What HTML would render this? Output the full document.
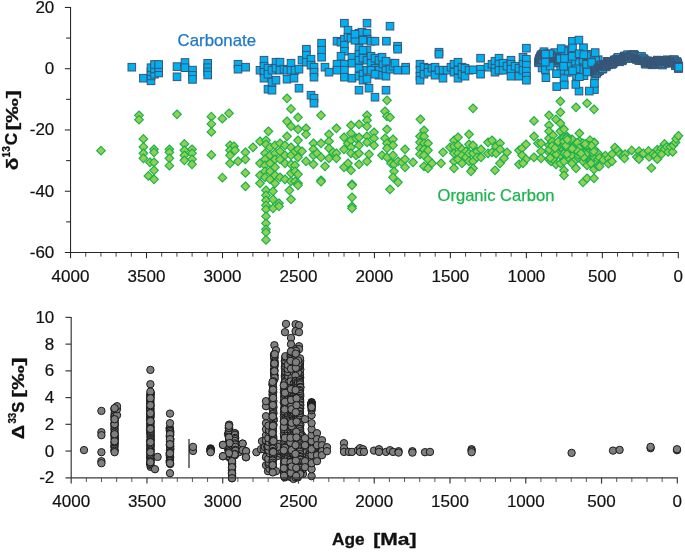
<!DOCTYPE html>
<html lang="en"><head><meta charset="utf-8"><title>Carbon and sulfur isotope records</title>
<style>html,body{margin:0;padding:0;background:#fff}svg{display:block}</style></head>
<body>
<svg width="685" height="552" viewBox="0 0 685 552">
<rect width="685" height="552" fill="#fff"/>
<g fill="#00B0F0" stroke="#3A5474" stroke-width="1">
<rect x="128.00" y="63.40" width="7.6" height="7.6"/>
<rect x="234.20" y="60.40" width="7.6" height="7.6"/>
<rect x="234.20" y="65.40" width="7.6" height="7.6"/>
<rect x="241.80" y="63.40" width="7.6" height="7.6"/>
<rect x="139.60" y="74.40" width="7.6" height="7.6"/>
<rect x="147.20" y="77.00" width="7.6" height="7.6"/>
<rect x="147.20" y="72.10" width="7.6" height="7.6"/>
<rect x="147.20" y="68.00" width="7.6" height="7.6"/>
<rect x="147.20" y="63.90" width="7.6" height="7.6"/>
<rect x="150.70" y="70.40" width="7.6" height="7.6"/>
<rect x="150.70" y="65.10" width="7.6" height="7.6"/>
<rect x="150.70" y="60.70" width="7.6" height="7.6"/>
<rect x="154.90" y="69.20" width="7.6" height="7.6"/>
<rect x="154.90" y="63.90" width="7.6" height="7.6"/>
<rect x="154.90" y="60.70" width="7.6" height="7.6"/>
<rect x="173.20" y="62.80" width="7.6" height="7.6"/>
<rect x="173.20" y="73.00" width="7.6" height="7.6"/>
<rect x="181.20" y="58.70" width="7.6" height="7.6"/>
<rect x="181.20" y="63.90" width="7.6" height="7.6"/>
<rect x="188.70" y="66.30" width="7.6" height="7.6"/>
<rect x="188.70" y="71.50" width="7.6" height="7.6"/>
<rect x="188.70" y="75.60" width="7.6" height="7.6"/>
<rect x="203.90" y="59.50" width="7.6" height="7.6"/>
<rect x="203.90" y="63.90" width="7.6" height="7.6"/>
<rect x="203.90" y="68.00" width="7.6" height="7.6"/>
<rect x="203.90" y="71.20" width="7.6" height="7.6"/>
<rect x="256.20" y="66.40" width="7.6" height="7.6"/>
<rect x="260.20" y="56.40" width="7.6" height="7.6"/>
<rect x="260.20" y="62.40" width="7.6" height="7.6"/>
<rect x="260.20" y="68.40" width="7.6" height="7.6"/>
<rect x="260.20" y="74.40" width="7.6" height="7.6"/>
<rect x="264.20" y="64.40" width="7.6" height="7.6"/>
<rect x="264.20" y="70.40" width="7.6" height="7.6"/>
<rect x="264.20" y="85.40" width="7.6" height="7.6"/>
<rect x="268.20" y="78.40" width="7.6" height="7.6"/>
<rect x="268.20" y="86.40" width="7.6" height="7.6"/>
<rect x="268.20" y="66.40" width="7.6" height="7.6"/>
<rect x="272.20" y="58.40" width="7.6" height="7.6"/>
<rect x="272.20" y="64.40" width="7.6" height="7.6"/>
<rect x="272.20" y="76.40" width="7.6" height="7.6"/>
<rect x="276.20" y="58.40" width="7.6" height="7.6"/>
<rect x="276.20" y="66.40" width="7.6" height="7.6"/>
<rect x="280.20" y="65.40" width="7.6" height="7.6"/>
<rect x="283.20" y="75.40" width="7.6" height="7.6"/>
<rect x="283.20" y="66.40" width="7.6" height="7.6"/>
<rect x="287.20" y="59.40" width="7.6" height="7.6"/>
<rect x="287.20" y="66.40" width="7.6" height="7.6"/>
<rect x="290.20" y="74.40" width="7.6" height="7.6"/>
<rect x="291.20" y="66.40" width="7.6" height="7.6"/>
<rect x="295.20" y="65.40" width="7.6" height="7.6"/>
<rect x="295.20" y="84.40" width="7.6" height="7.6"/>
<rect x="298.20" y="56.40" width="7.6" height="7.6"/>
<rect x="302.60" y="45.40" width="7.6" height="7.6"/>
<rect x="302.60" y="51.40" width="7.6" height="7.6"/>
<rect x="302.60" y="58.40" width="7.6" height="7.6"/>
<rect x="307.20" y="55.40" width="7.6" height="7.6"/>
<rect x="307.20" y="61.40" width="7.6" height="7.6"/>
<rect x="310.20" y="63.40" width="7.6" height="7.6"/>
<rect x="310.20" y="68.40" width="7.6" height="7.6"/>
<rect x="310.20" y="73.40" width="7.6" height="7.6"/>
<rect x="307.20" y="91.40" width="7.6" height="7.6"/>
<rect x="310.20" y="94.40" width="7.6" height="7.6"/>
<rect x="310.20" y="99.40" width="7.6" height="7.6"/>
<rect x="317.80" y="39.40" width="7.6" height="7.6"/>
<rect x="317.80" y="46.40" width="7.6" height="7.6"/>
<rect x="317.80" y="53.40" width="7.6" height="7.6"/>
<rect x="321.20" y="63.40" width="7.6" height="7.6"/>
<rect x="325.20" y="68.40" width="7.6" height="7.6"/>
<rect x="340.60" y="19.40" width="7.6" height="7.6"/>
<rect x="344.20" y="26.40" width="7.6" height="7.6"/>
<rect x="333.20" y="37.40" width="7.6" height="7.6"/>
<rect x="337.20" y="38.40" width="7.6" height="7.6"/>
<rect x="340.60" y="35.40" width="7.6" height="7.6"/>
<rect x="340.60" y="41.40" width="7.6" height="7.6"/>
<rect x="340.60" y="47.40" width="7.6" height="7.6"/>
<rect x="344.20" y="33.40" width="7.6" height="7.6"/>
<rect x="347.20" y="34.40" width="7.6" height="7.6"/>
<rect x="351.20" y="36.40" width="7.6" height="7.6"/>
<rect x="355.20" y="29.40" width="7.6" height="7.6"/>
<rect x="358.20" y="28.40" width="7.6" height="7.6"/>
<rect x="363.20" y="19.40" width="7.6" height="7.6"/>
<rect x="363.20" y="29.40" width="7.6" height="7.6"/>
<rect x="363.20" y="35.40" width="7.6" height="7.6"/>
<rect x="367.20" y="37.40" width="7.6" height="7.6"/>
<rect x="371.20" y="37.40" width="7.6" height="7.6"/>
<rect x="382.60" y="37.40" width="7.6" height="7.6"/>
<rect x="386.20" y="22.40" width="7.6" height="7.6"/>
<rect x="333.20" y="60.40" width="7.6" height="7.6"/>
<rect x="333.20" y="66.40" width="7.6" height="7.6"/>
<rect x="340.60" y="60.40" width="7.6" height="7.6"/>
<rect x="340.60" y="66.40" width="7.6" height="7.6"/>
<rect x="340.60" y="73.40" width="7.6" height="7.6"/>
<rect x="348.20" y="53.40" width="7.6" height="7.6"/>
<rect x="348.20" y="59.40" width="7.6" height="7.6"/>
<rect x="348.20" y="74.40" width="7.6" height="7.6"/>
<rect x="355.20" y="44.40" width="7.6" height="7.6"/>
<rect x="355.20" y="50.40" width="7.6" height="7.6"/>
<rect x="355.20" y="56.40" width="7.6" height="7.6"/>
<rect x="355.20" y="64.40" width="7.6" height="7.6"/>
<rect x="355.20" y="72.40" width="7.6" height="7.6"/>
<rect x="355.20" y="86.40" width="7.6" height="7.6"/>
<rect x="359.20" y="54.40" width="7.6" height="7.6"/>
<rect x="359.20" y="70.40" width="7.6" height="7.6"/>
<rect x="359.20" y="76.40" width="7.6" height="7.6"/>
<rect x="363.20" y="46.40" width="7.6" height="7.6"/>
<rect x="363.20" y="56.40" width="7.6" height="7.6"/>
<rect x="363.20" y="66.40" width="7.6" height="7.6"/>
<rect x="363.20" y="75.40" width="7.6" height="7.6"/>
<rect x="365.20" y="84.40" width="7.6" height="7.6"/>
<rect x="367.20" y="52.40" width="7.6" height="7.6"/>
<rect x="367.20" y="59.40" width="7.6" height="7.6"/>
<rect x="371.20" y="54.40" width="7.6" height="7.6"/>
<rect x="371.20" y="64.40" width="7.6" height="7.6"/>
<rect x="371.20" y="93.40" width="7.6" height="7.6"/>
<rect x="375.20" y="56.40" width="7.6" height="7.6"/>
<rect x="375.20" y="66.40" width="7.6" height="7.6"/>
<rect x="375.20" y="71.40" width="7.6" height="7.6"/>
<rect x="379.20" y="60.40" width="7.6" height="7.6"/>
<rect x="382.20" y="66.40" width="7.6" height="7.6"/>
<rect x="382.20" y="72.40" width="7.6" height="7.6"/>
<rect x="382.20" y="86.40" width="7.6" height="7.6"/>
<rect x="386.20" y="59.40" width="7.6" height="7.6"/>
<rect x="386.20" y="65.40" width="7.6" height="7.6"/>
<rect x="389.20" y="62.40" width="7.6" height="7.6"/>
<rect x="337.20" y="52.40" width="7.6" height="7.6"/>
<rect x="351.20" y="30.40" width="7.6" height="7.6"/>
<rect x="359.20" y="36.40" width="7.6" height="7.6"/>
<rect x="359.20" y="46.40" width="7.6" height="7.6"/>
<rect x="367.20" y="66.40" width="7.6" height="7.6"/>
<rect x="371.20" y="70.40" width="7.6" height="7.6"/>
<rect x="378.20" y="53.40" width="7.6" height="7.6"/>
<rect x="382.20" y="57.40" width="7.6" height="7.6"/>
<rect x="393.80" y="42.40" width="7.6" height="7.6"/>
<rect x="393.80" y="45.40" width="7.6" height="7.6"/>
<rect x="391.20" y="59.40" width="7.6" height="7.6"/>
<rect x="393.80" y="66.40" width="7.6" height="7.6"/>
<rect x="401.80" y="63.40" width="7.6" height="7.6"/>
<rect x="401.80" y="66.40" width="7.6" height="7.6"/>
<rect x="416.20" y="60.40" width="7.6" height="7.6"/>
<rect x="416.20" y="66.40" width="7.6" height="7.6"/>
<rect x="416.20" y="72.40" width="7.6" height="7.6"/>
<rect x="416.20" y="76.40" width="7.6" height="7.6"/>
<rect x="420.20" y="63.40" width="7.6" height="7.6"/>
<rect x="420.20" y="70.40" width="7.6" height="7.6"/>
<rect x="424.20" y="64.40" width="7.6" height="7.6"/>
<rect x="424.20" y="68.40" width="7.6" height="7.6"/>
<rect x="428.20" y="64.40" width="7.6" height="7.6"/>
<rect x="431.20" y="63.40" width="7.6" height="7.6"/>
<rect x="431.20" y="71.40" width="7.6" height="7.6"/>
<rect x="435.20" y="48.40" width="7.6" height="7.6"/>
<rect x="435.20" y="50.40" width="7.6" height="7.6"/>
<rect x="435.20" y="66.40" width="7.6" height="7.6"/>
<rect x="439.20" y="66.40" width="7.6" height="7.6"/>
<rect x="439.20" y="74.40" width="7.6" height="7.6"/>
<rect x="443.20" y="66.40" width="7.6" height="7.6"/>
<rect x="447.20" y="63.40" width="7.6" height="7.6"/>
<rect x="450.20" y="60.40" width="7.6" height="7.6"/>
<rect x="450.20" y="68.40" width="7.6" height="7.6"/>
<rect x="454.20" y="58.40" width="7.6" height="7.6"/>
<rect x="454.20" y="66.40" width="7.6" height="7.6"/>
<rect x="454.20" y="74.40" width="7.6" height="7.6"/>
<rect x="458.20" y="63.40" width="7.6" height="7.6"/>
<rect x="458.20" y="70.40" width="7.6" height="7.6"/>
<rect x="461.20" y="64.40" width="7.6" height="7.6"/>
<rect x="461.20" y="72.40" width="7.6" height="7.6"/>
<rect x="465.20" y="66.40" width="7.6" height="7.6"/>
<rect x="469.20" y="66.00" width="7.6" height="7.6"/>
<rect x="476.80" y="54.40" width="7.6" height="7.6"/>
<rect x="476.80" y="65.40" width="7.6" height="7.6"/>
<rect x="476.80" y="70.40" width="7.6" height="7.6"/>
<rect x="484.20" y="63.40" width="7.6" height="7.6"/>
<rect x="488.20" y="60.40" width="7.6" height="7.6"/>
<rect x="491.20" y="57.40" width="7.6" height="7.6"/>
<rect x="491.20" y="64.40" width="7.6" height="7.6"/>
<rect x="491.20" y="68.40" width="7.6" height="7.6"/>
<rect x="495.20" y="54.40" width="7.6" height="7.6"/>
<rect x="495.20" y="60.40" width="7.6" height="7.6"/>
<rect x="495.20" y="66.40" width="7.6" height="7.6"/>
<rect x="499.20" y="59.40" width="7.6" height="7.6"/>
<rect x="499.20" y="66.40" width="7.6" height="7.6"/>
<rect x="503.20" y="62.40" width="7.6" height="7.6"/>
<rect x="507.20" y="56.40" width="7.6" height="7.6"/>
<rect x="507.20" y="60.40" width="7.6" height="7.6"/>
<rect x="507.20" y="65.40" width="7.6" height="7.6"/>
<rect x="507.20" y="72.40" width="7.6" height="7.6"/>
<rect x="511.20" y="62.40" width="7.6" height="7.6"/>
<rect x="515.20" y="64.40" width="7.6" height="7.6"/>
<rect x="515.20" y="72.40" width="7.6" height="7.6"/>
<rect x="519.20" y="53.40" width="7.6" height="7.6"/>
<rect x="519.20" y="60.40" width="7.6" height="7.6"/>
<rect x="519.20" y="66.40" width="7.6" height="7.6"/>
<rect x="522.60" y="44.40" width="7.6" height="7.6"/>
<rect x="522.60" y="55.40" width="7.6" height="7.6"/>
<rect x="522.60" y="61.40" width="7.6" height="7.6"/>
<rect x="522.60" y="67.40" width="7.6" height="7.6"/>
<rect x="522.60" y="72.40" width="7.6" height="7.6"/>
<rect x="522.60" y="76.40" width="7.6" height="7.6"/>
<rect x="594.10" y="67.90" width="7.6" height="7.6"/>
<rect x="571.60" y="56.70" width="7.6" height="7.6"/>
<rect x="557.50" y="58.30" width="7.6" height="7.6"/>
<rect x="563.60" y="68.60" width="7.6" height="7.6"/>
<rect x="568.30" y="58.30" width="7.6" height="7.6"/>
<rect x="563.70" y="62.40" width="7.6" height="7.6"/>
<rect x="590.60" y="85.80" width="7.6" height="7.6"/>
<rect x="587.20" y="66.60" width="7.6" height="7.6"/>
<rect x="553.80" y="52.50" width="7.6" height="7.6"/>
<rect x="575.20" y="58.80" width="7.6" height="7.6"/>
<rect x="579.30" y="56.30" width="7.6" height="7.6"/>
<rect x="572.20" y="50.60" width="7.6" height="7.6"/>
<rect x="564.90" y="45.90" width="7.6" height="7.6"/>
<rect x="594.40" y="55.90" width="7.6" height="7.6"/>
<rect x="554.40" y="59.20" width="7.6" height="7.6"/>
<rect x="572.70" y="72.10" width="7.6" height="7.6"/>
<rect x="580.20" y="71.90" width="7.6" height="7.6"/>
<rect x="575.20" y="87.30" width="7.6" height="7.6"/>
<rect x="575.60" y="72.90" width="7.6" height="7.6"/>
<rect x="550.70" y="56.10" width="7.6" height="7.6"/>
<rect x="564.10" y="54.80" width="7.6" height="7.6"/>
<rect x="546.40" y="57.00" width="7.6" height="7.6"/>
<rect x="585.50" y="87.30" width="7.6" height="7.6"/>
<rect x="538.30" y="64.20" width="7.6" height="7.6"/>
<rect x="560.10" y="47.10" width="7.6" height="7.6"/>
<rect x="579.40" y="64.90" width="7.6" height="7.6"/>
<rect x="591.70" y="64.80" width="7.6" height="7.6"/>
<rect x="591.80" y="56.80" width="7.6" height="7.6"/>
<rect x="538.00" y="50.90" width="7.6" height="7.6"/>
<rect x="556.60" y="52.00" width="7.6" height="7.6"/>
<rect x="587.00" y="50.50" width="7.6" height="7.6"/>
<rect x="575.30" y="66.00" width="7.6" height="7.6"/>
<rect x="583.30" y="68.10" width="7.6" height="7.6"/>
<rect x="572.40" y="65.10" width="7.6" height="7.6"/>
<rect x="591.00" y="72.30" width="7.6" height="7.6"/>
<rect x="538.40" y="55.80" width="7.6" height="7.6"/>
<rect x="568.70" y="67.00" width="7.6" height="7.6"/>
<rect x="550.90" y="48.80" width="7.6" height="7.6"/>
<rect x="579.70" y="43.90" width="7.6" height="7.6"/>
<rect x="590.60" y="79.60" width="7.6" height="7.6"/>
<rect x="534.70" y="58.10" width="7.6" height="7.6"/>
<rect x="534.90" y="59.00" width="7.6" height="7.6"/>
<rect x="535.20" y="56.40" width="7.6" height="7.6"/>
<rect x="535.50" y="54.90" width="7.6" height="7.6"/>
<rect x="535.50" y="57.30" width="7.6" height="7.6"/>
<rect x="535.80" y="56.60" width="7.6" height="7.6"/>
<rect x="536.10" y="57.30" width="7.6" height="7.6"/>
<rect x="536.10" y="54.70" width="7.6" height="7.6"/>
<rect x="536.60" y="53.30" width="7.6" height="7.6"/>
<rect x="536.80" y="55.90" width="7.6" height="7.6"/>
<rect x="536.90" y="52.00" width="7.6" height="7.6"/>
<rect x="537.10" y="54.90" width="7.6" height="7.6"/>
<rect x="537.70" y="51.20" width="7.6" height="7.6"/>
<rect x="537.70" y="53.80" width="7.6" height="7.6"/>
<rect x="538.30" y="52.40" width="7.6" height="7.6"/>
<rect x="538.60" y="50.90" width="7.6" height="7.6"/>
<rect x="538.70" y="54.90" width="7.6" height="7.6"/>
<rect x="539.10" y="56.00" width="7.6" height="7.6"/>
<rect x="539.60" y="49.70" width="7.6" height="7.6"/>
<rect x="539.90" y="52.10" width="7.6" height="7.6"/>
<rect x="540.20" y="47.90" width="7.6" height="7.6"/>
<rect x="540.50" y="52.00" width="7.6" height="7.6"/>
<rect x="541.00" y="54.10" width="7.6" height="7.6"/>
<rect x="541.50" y="51.80" width="7.6" height="7.6"/>
<rect x="541.70" y="51.40" width="7.6" height="7.6"/>
<rect x="542.30" y="50.60" width="7.6" height="7.6"/>
<rect x="542.50" y="51.70" width="7.6" height="7.6"/>
<rect x="542.90" y="51.10" width="7.6" height="7.6"/>
<rect x="543.40" y="51.50" width="7.6" height="7.6"/>
<rect x="543.80" y="50.10" width="7.6" height="7.6"/>
<rect x="544.30" y="53.70" width="7.6" height="7.6"/>
<rect x="544.70" y="52.50" width="7.6" height="7.6"/>
<rect x="545.00" y="52.60" width="7.6" height="7.6"/>
<rect x="545.40" y="50.40" width="7.6" height="7.6"/>
<rect x="545.80" y="52.90" width="7.6" height="7.6"/>
<rect x="546.00" y="53.20" width="7.6" height="7.6"/>
<rect x="546.50" y="53.10" width="7.6" height="7.6"/>
<rect x="546.80" y="51.00" width="7.6" height="7.6"/>
<rect x="547.00" y="54.50" width="7.6" height="7.6"/>
<rect x="547.40" y="55.10" width="7.6" height="7.6"/>
<rect x="547.70" y="52.90" width="7.6" height="7.6"/>
<rect x="548.20" y="52.20" width="7.6" height="7.6"/>
<rect x="548.60" y="54.50" width="7.6" height="7.6"/>
<rect x="548.80" y="53.90" width="7.6" height="7.6"/>
<rect x="549.20" y="55.80" width="7.6" height="7.6"/>
<rect x="549.50" y="55.60" width="7.6" height="7.6"/>
<rect x="550.10" y="56.00" width="7.6" height="7.6"/>
<rect x="550.50" y="55.50" width="7.6" height="7.6"/>
<rect x="550.80" y="55.60" width="7.6" height="7.6"/>
<rect x="551.10" y="56.50" width="7.6" height="7.6"/>
<rect x="551.60" y="54.40" width="7.6" height="7.6"/>
<rect x="551.80" y="55.70" width="7.6" height="7.6"/>
<rect x="552.30" y="59.00" width="7.6" height="7.6"/>
<rect x="552.70" y="54.30" width="7.6" height="7.6"/>
<rect x="552.90" y="54.20" width="7.6" height="7.6"/>
<rect x="553.40" y="56.10" width="7.6" height="7.6"/>
<rect x="553.80" y="54.80" width="7.6" height="7.6"/>
<rect x="554.20" y="54.00" width="7.6" height="7.6"/>
<rect x="554.60" y="57.20" width="7.6" height="7.6"/>
<rect x="555.20" y="57.10" width="7.6" height="7.6"/>
<rect x="555.50" y="54.40" width="7.6" height="7.6"/>
<rect x="555.80" y="55.90" width="7.6" height="7.6"/>
<rect x="556.30" y="55.00" width="7.6" height="7.6"/>
<rect x="560.60" y="54.70" width="7.6" height="7.6"/>
<rect x="542.10" y="73.90" width="7.6" height="7.6"/>
<rect x="591.40" y="48.80" width="7.6" height="7.6"/>
<rect x="541.60" y="65.80" width="7.6" height="7.6"/>
<rect x="556.90" y="66.50" width="7.6" height="7.6"/>
<rect x="594.60" y="61.80" width="7.6" height="7.6"/>
<rect x="582.80" y="60.40" width="7.6" height="7.6"/>
<rect x="568.60" y="37.50" width="7.6" height="7.6"/>
<rect x="568.50" y="52.50" width="7.6" height="7.6"/>
<rect x="582.70" y="52.00" width="7.6" height="7.6"/>
<rect x="545.70" y="50.00" width="7.6" height="7.6"/>
<rect x="568.70" y="44.10" width="7.6" height="7.6"/>
<rect x="560.20" y="74.90" width="7.6" height="7.6"/>
<rect x="572.00" y="80.60" width="7.6" height="7.6"/>
<rect x="559.80" y="62.50" width="7.6" height="7.6"/>
<rect x="557.30" y="44.80" width="7.6" height="7.6"/>
<rect x="575.30" y="49.90" width="7.6" height="7.6"/>
<rect x="546.30" y="62.30" width="7.6" height="7.6"/>
<rect x="560.50" y="81.10" width="7.6" height="7.6"/>
<rect x="575.10" y="36.30" width="7.6" height="7.6"/>
<rect x="552.90" y="82.80" width="7.6" height="7.6"/>
<rect x="587.80" y="58.70" width="7.6" height="7.6"/>
<rect x="541.60" y="58.30" width="7.6" height="7.6"/>
<rect x="541.60" y="50.40" width="7.6" height="7.6"/>
<rect x="580.00" y="50.90" width="7.6" height="7.6"/>
<rect x="552.70" y="69.90" width="7.6" height="7.6"/>
<rect x="590.52" y="66.88" width="7.6" height="7.6"/>
<rect x="590.56" y="66.85" width="7.6" height="7.6"/>
<rect x="590.99" y="66.84" width="7.6" height="7.6"/>
<rect x="591.34" y="67.07" width="7.6" height="7.6"/>
<rect x="591.42" y="68.60" width="7.6" height="7.6"/>
<rect x="591.60" y="68.24" width="7.6" height="7.6"/>
<rect x="591.98" y="69.46" width="7.6" height="7.6"/>
<rect x="592.32" y="68.41" width="7.6" height="7.6"/>
<rect x="592.46" y="69.35" width="7.6" height="7.6"/>
<rect x="592.93" y="69.45" width="7.6" height="7.6"/>
<rect x="592.97" y="68.56" width="7.6" height="7.6"/>
<rect x="593.43" y="67.25" width="7.6" height="7.6"/>
<rect x="593.71" y="66.36" width="7.6" height="7.6"/>
<rect x="593.75" y="65.63" width="7.6" height="7.6"/>
<rect x="594.22" y="64.04" width="7.6" height="7.6"/>
<rect x="594.43" y="66.00" width="7.6" height="7.6"/>
<rect x="594.66" y="65.26" width="7.6" height="7.6"/>
<rect x="594.92" y="65.10" width="7.6" height="7.6"/>
<rect x="595.11" y="65.89" width="7.6" height="7.6"/>
<rect x="595.53" y="66.44" width="7.6" height="7.6"/>
<rect x="595.64" y="66.92" width="7.6" height="7.6"/>
<rect x="595.83" y="65.50" width="7.6" height="7.6"/>
<rect x="596.27" y="64.63" width="7.6" height="7.6"/>
<rect x="596.42" y="63.57" width="7.6" height="7.6"/>
<rect x="596.62" y="63.28" width="7.6" height="7.6"/>
<rect x="597.18" y="61.11" width="7.6" height="7.6"/>
<rect x="597.34" y="63.06" width="7.6" height="7.6"/>
<rect x="597.43" y="62.01" width="7.6" height="7.6"/>
<rect x="597.97" y="61.20" width="7.6" height="7.6"/>
<rect x="598.02" y="64.00" width="7.6" height="7.6"/>
<rect x="598.40" y="65.31" width="7.6" height="7.6"/>
<rect x="598.64" y="64.42" width="7.6" height="7.6"/>
<rect x="598.94" y="65.08" width="7.6" height="7.6"/>
<rect x="599.09" y="64.96" width="7.6" height="7.6"/>
<rect x="599.28" y="61.69" width="7.6" height="7.6"/>
<rect x="599.54" y="61.34" width="7.6" height="7.6"/>
<rect x="599.96" y="62.62" width="7.6" height="7.6"/>
<rect x="600.14" y="61.22" width="7.6" height="7.6"/>
<rect x="600.53" y="62.23" width="7.6" height="7.6"/>
<rect x="600.80" y="60.43" width="7.6" height="7.6"/>
<rect x="601.16" y="61.58" width="7.6" height="7.6"/>
<rect x="601.22" y="62.40" width="7.6" height="7.6"/>
<rect x="601.46" y="63.10" width="7.6" height="7.6"/>
<rect x="601.93" y="62.75" width="7.6" height="7.6"/>
<rect x="602.22" y="62.39" width="7.6" height="7.6"/>
<rect x="602.49" y="62.51" width="7.6" height="7.6"/>
<rect x="602.65" y="61.76" width="7.6" height="7.6"/>
<rect x="602.99" y="60.85" width="7.6" height="7.6"/>
<rect x="603.19" y="60.30" width="7.6" height="7.6"/>
<rect x="603.37" y="57.54" width="7.6" height="7.6"/>
<rect x="603.70" y="58.72" width="7.6" height="7.6"/>
<rect x="603.99" y="58.90" width="7.6" height="7.6"/>
<rect x="604.13" y="58.56" width="7.6" height="7.6"/>
<rect x="604.33" y="58.31" width="7.6" height="7.6"/>
<rect x="604.91" y="59.62" width="7.6" height="7.6"/>
<rect x="604.99" y="60.99" width="7.6" height="7.6"/>
<rect x="605.24" y="60.15" width="7.6" height="7.6"/>
<rect x="605.50" y="59.70" width="7.6" height="7.6"/>
<rect x="605.81" y="59.84" width="7.6" height="7.6"/>
<rect x="606.21" y="59.15" width="7.6" height="7.6"/>
<rect x="606.32" y="59.81" width="7.6" height="7.6"/>
<rect x="606.82" y="58.72" width="7.6" height="7.6"/>
<rect x="606.97" y="58.62" width="7.6" height="7.6"/>
<rect x="607.22" y="57.73" width="7.6" height="7.6"/>
<rect x="607.70" y="58.04" width="7.6" height="7.6"/>
<rect x="607.95" y="59.61" width="7.6" height="7.6"/>
<rect x="608.21" y="60.58" width="7.6" height="7.6"/>
<rect x="608.43" y="59.93" width="7.6" height="7.6"/>
<rect x="608.68" y="58.94" width="7.6" height="7.6"/>
<rect x="608.90" y="59.66" width="7.6" height="7.6"/>
<rect x="609.34" y="59.25" width="7.6" height="7.6"/>
<rect x="609.58" y="58.10" width="7.6" height="7.6"/>
<rect x="609.86" y="58.00" width="7.6" height="7.6"/>
<rect x="610.08" y="58.33" width="7.6" height="7.6"/>
<rect x="610.38" y="56.20" width="7.6" height="7.6"/>
<rect x="610.73" y="57.65" width="7.6" height="7.6"/>
<rect x="611.01" y="56.74" width="7.6" height="7.6"/>
<rect x="611.26" y="57.84" width="7.6" height="7.6"/>
<rect x="611.36" y="56.94" width="7.6" height="7.6"/>
<rect x="611.64" y="56.29" width="7.6" height="7.6"/>
<rect x="612.03" y="56.09" width="7.6" height="7.6"/>
<rect x="612.34" y="57.28" width="7.6" height="7.6"/>
<rect x="612.65" y="56.65" width="7.6" height="7.6"/>
<rect x="612.85" y="55.85" width="7.6" height="7.6"/>
<rect x="613.08" y="56.03" width="7.6" height="7.6"/>
<rect x="613.63" y="55.04" width="7.6" height="7.6"/>
<rect x="613.80" y="54.46" width="7.6" height="7.6"/>
<rect x="614.15" y="53.60" width="7.6" height="7.6"/>
<rect x="614.47" y="55.56" width="7.6" height="7.6"/>
<rect x="614.57" y="56.03" width="7.6" height="7.6"/>
<rect x="614.98" y="56.14" width="7.6" height="7.6"/>
<rect x="615.21" y="57.26" width="7.6" height="7.6"/>
<rect x="615.64" y="57.01" width="7.6" height="7.6"/>
<rect x="615.74" y="58.01" width="7.6" height="7.6"/>
<rect x="616.00" y="56.90" width="7.6" height="7.6"/>
<rect x="616.40" y="55.55" width="7.6" height="7.6"/>
<rect x="616.72" y="56.40" width="7.6" height="7.6"/>
<rect x="616.99" y="55.71" width="7.6" height="7.6"/>
<rect x="617.23" y="55.71" width="7.6" height="7.6"/>
<rect x="617.67" y="55.70" width="7.6" height="7.6"/>
<rect x="617.81" y="55.97" width="7.6" height="7.6"/>
<rect x="618.16" y="55.90" width="7.6" height="7.6"/>
<rect x="618.47" y="57.06" width="7.6" height="7.6"/>
<rect x="618.82" y="55.67" width="7.6" height="7.6"/>
<rect x="618.84" y="55.68" width="7.6" height="7.6"/>
<rect x="619.24" y="55.12" width="7.6" height="7.6"/>
<rect x="619.54" y="54.61" width="7.6" height="7.6"/>
<rect x="619.97" y="54.18" width="7.6" height="7.6"/>
<rect x="620.24" y="52.79" width="7.6" height="7.6"/>
<rect x="620.53" y="52.71" width="7.6" height="7.6"/>
<rect x="620.76" y="52.56" width="7.6" height="7.6"/>
<rect x="620.90" y="52.10" width="7.6" height="7.6"/>
<rect x="621.30" y="53.91" width="7.6" height="7.6"/>
<rect x="621.48" y="54.15" width="7.6" height="7.6"/>
<rect x="621.84" y="54.39" width="7.6" height="7.6"/>
<rect x="622.24" y="53.69" width="7.6" height="7.6"/>
<rect x="622.55" y="54.03" width="7.6" height="7.6"/>
<rect x="622.75" y="52.39" width="7.6" height="7.6"/>
<rect x="622.96" y="53.42" width="7.6" height="7.6"/>
<rect x="623.24" y="52.79" width="7.6" height="7.6"/>
<rect x="623.51" y="52.54" width="7.6" height="7.6"/>
<rect x="623.80" y="50.84" width="7.6" height="7.6"/>
<rect x="624.05" y="53.52" width="7.6" height="7.6"/>
<rect x="624.28" y="53.04" width="7.6" height="7.6"/>
<rect x="624.58" y="53.10" width="7.6" height="7.6"/>
<rect x="624.97" y="54.25" width="7.6" height="7.6"/>
<rect x="625.44" y="54.13" width="7.6" height="7.6"/>
<rect x="625.70" y="54.53" width="7.6" height="7.6"/>
<rect x="625.80" y="53.23" width="7.6" height="7.6"/>
<rect x="626.29" y="52.70" width="7.6" height="7.6"/>
<rect x="626.70" y="51.97" width="7.6" height="7.6"/>
<rect x="626.85" y="51.31" width="7.6" height="7.6"/>
<rect x="627.26" y="52.78" width="7.6" height="7.6"/>
<rect x="627.47" y="53.06" width="7.6" height="7.6"/>
<rect x="627.77" y="52.56" width="7.6" height="7.6"/>
<rect x="628.22" y="52.39" width="7.6" height="7.6"/>
<rect x="628.30" y="53.00" width="7.6" height="7.6"/>
<rect x="628.86" y="52.35" width="7.6" height="7.6"/>
<rect x="628.94" y="53.38" width="7.6" height="7.6"/>
<rect x="629.47" y="50.79" width="7.6" height="7.6"/>
<rect x="629.68" y="51.88" width="7.6" height="7.6"/>
<rect x="629.88" y="50.84" width="7.6" height="7.6"/>
<rect x="630.22" y="51.56" width="7.6" height="7.6"/>
<rect x="630.67" y="51.21" width="7.6" height="7.6"/>
<rect x="630.81" y="51.71" width="7.6" height="7.6"/>
<rect x="631.17" y="52.97" width="7.6" height="7.6"/>
<rect x="631.51" y="53.65" width="7.6" height="7.6"/>
<rect x="631.62" y="53.31" width="7.6" height="7.6"/>
<rect x="632.05" y="54.91" width="7.6" height="7.6"/>
<rect x="632.31" y="54.31" width="7.6" height="7.6"/>
<rect x="632.59" y="55.64" width="7.6" height="7.6"/>
<rect x="632.91" y="54.22" width="7.6" height="7.6"/>
<rect x="633.20" y="54.25" width="7.6" height="7.6"/>
<rect x="633.42" y="52.75" width="7.6" height="7.6"/>
<rect x="633.67" y="54.62" width="7.6" height="7.6"/>
<rect x="633.91" y="54.49" width="7.6" height="7.6"/>
<rect x="634.41" y="54.03" width="7.6" height="7.6"/>
<rect x="634.54" y="54.94" width="7.6" height="7.6"/>
<rect x="634.91" y="56.66" width="7.6" height="7.6"/>
<rect x="635.22" y="54.97" width="7.6" height="7.6"/>
<rect x="635.50" y="56.30" width="7.6" height="7.6"/>
<rect x="635.86" y="55.19" width="7.6" height="7.6"/>
<rect x="636.18" y="54.12" width="7.6" height="7.6"/>
<rect x="636.32" y="53.27" width="7.6" height="7.6"/>
<rect x="636.58" y="52.67" width="7.6" height="7.6"/>
<rect x="637.02" y="53.46" width="7.6" height="7.6"/>
<rect x="637.19" y="53.23" width="7.6" height="7.6"/>
<rect x="637.58" y="54.42" width="7.6" height="7.6"/>
<rect x="637.76" y="52.79" width="7.6" height="7.6"/>
<rect x="637.90" y="56.72" width="7.6" height="7.6"/>
<rect x="638.30" y="55.23" width="7.6" height="7.6"/>
<rect x="638.54" y="55.19" width="7.6" height="7.6"/>
<rect x="638.73" y="56.92" width="7.6" height="7.6"/>
<rect x="638.97" y="56.84" width="7.6" height="7.6"/>
<rect x="639.44" y="56.27" width="7.6" height="7.6"/>
<rect x="639.66" y="56.98" width="7.6" height="7.6"/>
<rect x="639.74" y="54.80" width="7.6" height="7.6"/>
<rect x="640.21" y="56.48" width="7.6" height="7.6"/>
<rect x="640.41" y="56.47" width="7.6" height="7.6"/>
<rect x="640.51" y="56.65" width="7.6" height="7.6"/>
<rect x="640.95" y="56.03" width="7.6" height="7.6"/>
<rect x="641.18" y="57.47" width="7.6" height="7.6"/>
<rect x="641.32" y="59.71" width="7.6" height="7.6"/>
<rect x="641.64" y="60.16" width="7.6" height="7.6"/>
<rect x="641.93" y="59.63" width="7.6" height="7.6"/>
<rect x="642.39" y="60.34" width="7.6" height="7.6"/>
<rect x="642.75" y="58.88" width="7.6" height="7.6"/>
<rect x="642.83" y="57.63" width="7.6" height="7.6"/>
<rect x="643.12" y="58.80" width="7.6" height="7.6"/>
<rect x="643.51" y="57.08" width="7.6" height="7.6"/>
<rect x="643.77" y="57.20" width="7.6" height="7.6"/>
<rect x="644.14" y="58.01" width="7.6" height="7.6"/>
<rect x="644.52" y="58.24" width="7.6" height="7.6"/>
<rect x="644.74" y="59.02" width="7.6" height="7.6"/>
<rect x="644.98" y="59.15" width="7.6" height="7.6"/>
<rect x="645.26" y="57.86" width="7.6" height="7.6"/>
<rect x="645.67" y="58.72" width="7.6" height="7.6"/>
<rect x="645.86" y="58.14" width="7.6" height="7.6"/>
<rect x="646.14" y="57.75" width="7.6" height="7.6"/>
<rect x="646.60" y="58.10" width="7.6" height="7.6"/>
<rect x="646.71" y="57.66" width="7.6" height="7.6"/>
<rect x="647.18" y="57.94" width="7.6" height="7.6"/>
<rect x="647.33" y="59.07" width="7.6" height="7.6"/>
<rect x="647.82" y="59.94" width="7.6" height="7.6"/>
<rect x="648.03" y="60.63" width="7.6" height="7.6"/>
<rect x="648.42" y="59.09" width="7.6" height="7.6"/>
<rect x="648.47" y="61.03" width="7.6" height="7.6"/>
<rect x="648.93" y="60.90" width="7.6" height="7.6"/>
<rect x="649.06" y="60.11" width="7.6" height="7.6"/>
<rect x="649.53" y="58.68" width="7.6" height="7.6"/>
<rect x="649.71" y="59.67" width="7.6" height="7.6"/>
<rect x="650.08" y="58.68" width="7.6" height="7.6"/>
<rect x="650.28" y="58.25" width="7.6" height="7.6"/>
<rect x="650.57" y="59.36" width="7.6" height="7.6"/>
<rect x="651.05" y="59.96" width="7.6" height="7.6"/>
<rect x="651.31" y="59.36" width="7.6" height="7.6"/>
<rect x="651.67" y="60.25" width="7.6" height="7.6"/>
<rect x="652.00" y="60.73" width="7.6" height="7.6"/>
<rect x="652.08" y="59.41" width="7.6" height="7.6"/>
<rect x="652.37" y="59.39" width="7.6" height="7.6"/>
<rect x="652.92" y="58.31" width="7.6" height="7.6"/>
<rect x="653.12" y="57.34" width="7.6" height="7.6"/>
<rect x="653.48" y="56.28" width="7.6" height="7.6"/>
<rect x="653.64" y="57.10" width="7.6" height="7.6"/>
<rect x="654.06" y="57.12" width="7.6" height="7.6"/>
<rect x="654.21" y="57.28" width="7.6" height="7.6"/>
<rect x="654.55" y="58.46" width="7.6" height="7.6"/>
<rect x="654.97" y="58.16" width="7.6" height="7.6"/>
<rect x="655.12" y="59.48" width="7.6" height="7.6"/>
<rect x="655.54" y="58.63" width="7.6" height="7.6"/>
<rect x="655.79" y="59.19" width="7.6" height="7.6"/>
<rect x="656.20" y="58.76" width="7.6" height="7.6"/>
<rect x="656.28" y="58.15" width="7.6" height="7.6"/>
<rect x="656.75" y="57.46" width="7.6" height="7.6"/>
<rect x="657.16" y="58.58" width="7.6" height="7.6"/>
<rect x="657.19" y="58.59" width="7.6" height="7.6"/>
<rect x="657.76" y="58.19" width="7.6" height="7.6"/>
<rect x="657.87" y="59.66" width="7.6" height="7.6"/>
<rect x="658.33" y="59.21" width="7.6" height="7.6"/>
<rect x="658.68" y="61.27" width="7.6" height="7.6"/>
<rect x="658.73" y="60.13" width="7.6" height="7.6"/>
<rect x="659.22" y="57.69" width="7.6" height="7.6"/>
<rect x="659.54" y="58.32" width="7.6" height="7.6"/>
<rect x="659.88" y="57.51" width="7.6" height="7.6"/>
<rect x="660.06" y="56.62" width="7.6" height="7.6"/>
<rect x="660.22" y="57.47" width="7.6" height="7.6"/>
<rect x="660.73" y="56.96" width="7.6" height="7.6"/>
<rect x="660.87" y="57.77" width="7.6" height="7.6"/>
<rect x="661.27" y="59.46" width="7.6" height="7.6"/>
<rect x="661.67" y="57.60" width="7.6" height="7.6"/>
<rect x="661.86" y="57.73" width="7.6" height="7.6"/>
<rect x="662.09" y="56.98" width="7.6" height="7.6"/>
<rect x="662.49" y="57.82" width="7.6" height="7.6"/>
<rect x="662.81" y="57.11" width="7.6" height="7.6"/>
<rect x="662.98" y="56.99" width="7.6" height="7.6"/>
<rect x="663.27" y="56.00" width="7.6" height="7.6"/>
<rect x="663.68" y="56.35" width="7.6" height="7.6"/>
<rect x="664.15" y="57.75" width="7.6" height="7.6"/>
<rect x="664.19" y="58.02" width="7.6" height="7.6"/>
<rect x="664.59" y="59.18" width="7.6" height="7.6"/>
<rect x="664.91" y="58.90" width="7.6" height="7.6"/>
<rect x="665.28" y="59.37" width="7.6" height="7.6"/>
<rect x="665.44" y="57.79" width="7.6" height="7.6"/>
<rect x="665.73" y="58.41" width="7.6" height="7.6"/>
<rect x="666.03" y="58.37" width="7.6" height="7.6"/>
<rect x="666.38" y="57.53" width="7.6" height="7.6"/>
<rect x="666.63" y="57.55" width="7.6" height="7.6"/>
<rect x="667.12" y="57.23" width="7.6" height="7.6"/>
<rect x="667.23" y="57.69" width="7.6" height="7.6"/>
<rect x="667.52" y="56.87" width="7.6" height="7.6"/>
<rect x="667.78" y="58.05" width="7.6" height="7.6"/>
<rect x="668.19" y="58.39" width="7.6" height="7.6"/>
<rect x="668.61" y="58.11" width="7.6" height="7.6"/>
<rect x="668.72" y="56.91" width="7.6" height="7.6"/>
<rect x="669.21" y="57.02" width="7.6" height="7.6"/>
<rect x="669.32" y="56.95" width="7.6" height="7.6"/>
<rect x="669.78" y="55.97" width="7.6" height="7.6"/>
<rect x="669.87" y="56.34" width="7.6" height="7.6"/>
<rect x="670.14" y="56.23" width="7.6" height="7.6"/>
<rect x="670.55" y="56.57" width="7.6" height="7.6"/>
<rect x="670.65" y="56.15" width="7.6" height="7.6"/>
<rect x="671.12" y="57.81" width="7.6" height="7.6"/>
<rect x="671.22" y="58.02" width="7.6" height="7.6"/>
<rect x="671.59" y="61.95" width="7.6" height="7.6"/>
<rect x="671.78" y="60.06" width="7.6" height="7.6"/>
<rect x="672.27" y="60.25" width="7.6" height="7.6"/>
<rect x="672.58" y="58.24" width="7.6" height="7.6"/>
<rect x="672.73" y="57.97" width="7.6" height="7.6"/>
<rect x="672.91" y="59.24" width="7.6" height="7.6"/>
<rect x="673.18" y="57.87" width="7.6" height="7.6"/>
<rect x="673.57" y="59.11" width="7.6" height="7.6"/>
<rect x="673.79" y="59.33" width="7.6" height="7.6"/>
<rect x="673.81" y="59.66" width="7.6" height="7.6"/>
<rect x="673.95" y="60.06" width="7.6" height="7.6"/>
<rect x="674.15" y="61.34" width="7.6" height="7.6"/>
<rect x="674.15" y="61.32" width="7.6" height="7.6"/>
<rect x="674.27" y="62.13" width="7.6" height="7.6"/>
<rect x="674.42" y="62.40" width="7.6" height="7.6"/>
<rect x="674.48" y="63.06" width="7.6" height="7.6"/>
<rect x="674.59" y="63.01" width="7.6" height="7.6"/>
<rect x="674.57" y="63.31" width="7.6" height="7.6"/>
<rect x="674.83" y="63.87" width="7.6" height="7.6"/>
<rect x="674.68" y="64.76" width="7.6" height="7.6"/>
<rect x="674.78" y="64.31" width="7.6" height="7.6"/>
<rect x="675.00" y="63.40" width="7.6" height="7.6"/>
</g>
<g fill="#92D050" stroke="#19B050" stroke-width="1.15" stroke-linejoin="miter">
<path d="M101.0 146.4L105.3 150.7L101.0 155.0L96.7 150.7Z"/>
<path d="M139.0 111.0L143.3 115.3L139.0 119.6L134.7 115.3Z"/>
<path d="M139.0 115.4L143.3 119.7L139.0 124.0L134.7 119.7Z"/>
<path d="M143.4 134.6L147.7 138.9L143.4 143.2L139.1 138.9Z"/>
<path d="M143.4 142.6L147.7 146.9L143.4 151.2L139.1 146.9Z"/>
<path d="M143.4 149.0L147.7 153.3L143.4 157.6L139.1 153.3Z"/>
<path d="M143.4 154.0L147.7 158.3L143.4 162.6L139.1 158.3Z"/>
<path d="M154.0 145.0L158.3 149.3L154.0 153.6L149.7 149.3Z"/>
<path d="M154.0 148.0L158.3 152.3L154.0 156.6L149.7 152.3Z"/>
<path d="M150.0 158.0L154.3 162.3L150.0 166.6L145.7 162.3Z"/>
<path d="M154.0 158.0L158.3 162.3L154.0 166.6L149.7 162.3Z"/>
<path d="M154.0 166.0L158.3 170.3L154.0 174.6L149.7 170.3Z"/>
<path d="M148.4 171.6L152.7 175.9L148.4 180.2L144.1 175.9Z"/>
<path d="M154.0 175.0L158.3 179.3L154.0 183.6L149.7 179.3Z"/>
<path d="M169.4 145.0L173.7 149.3L169.4 153.6L165.1 149.3Z"/>
<path d="M169.4 148.0L173.7 152.3L169.4 156.6L165.1 152.3Z"/>
<path d="M169.4 154.0L173.7 158.3L169.4 162.6L165.1 158.3Z"/>
<path d="M169.4 161.4L173.7 165.7L169.4 170.0L165.1 165.7Z"/>
<path d="M177.0 110.0L181.3 114.3L177.0 118.6L172.7 114.3Z"/>
<path d="M184.4 139.6L188.7 143.9L184.4 148.2L180.1 143.9Z"/>
<path d="M184.4 146.0L188.7 150.3L184.4 154.6L180.1 150.3Z"/>
<path d="M184.4 151.0L188.7 155.3L184.4 159.6L180.1 155.3Z"/>
<path d="M184.4 156.0L188.7 160.3L184.4 164.6L180.1 160.3Z"/>
<path d="M192.0 145.0L196.3 149.3L192.0 153.6L187.7 149.3Z"/>
<path d="M192.0 149.0L196.3 153.3L192.0 157.6L187.7 153.3Z"/>
<path d="M192.0 155.0L196.3 159.3L192.0 163.6L187.7 159.3Z"/>
<path d="M192.0 160.0L196.3 164.3L192.0 168.6L187.7 164.3Z"/>
<path d="M211.4 112.4L215.7 116.7L211.4 121.0L207.1 116.7Z"/>
<path d="M211.4 119.6L215.7 123.9L211.4 128.2L207.1 123.9Z"/>
<path d="M211.4 127.6L215.7 131.9L211.4 136.2L207.1 131.9Z"/>
<path d="M211.4 150.6L215.7 154.9L211.4 159.2L207.1 154.9Z"/>
<path d="M222.4 114.4L226.7 118.7L222.4 123.0L218.1 118.7Z"/>
<path d="M222.4 173.4L226.7 177.7L222.4 182.0L218.1 177.7Z"/>
<path d="M229.0 109.0L233.3 113.3L229.0 117.6L224.7 113.3Z"/>
<path d="M230.0 141.0L234.3 145.3L230.0 149.6L225.7 145.3Z"/>
<path d="M234.0 142.0L238.3 146.3L234.0 150.6L229.7 146.3Z"/>
<path d="M230.0 146.0L234.3 150.3L230.0 154.6L225.7 150.3Z"/>
<path d="M235.0 146.0L239.3 150.3L235.0 154.6L230.7 150.3Z"/>
<path d="M230.0 151.0L234.3 155.3L230.0 159.6L225.7 155.3Z"/>
<path d="M230.0 159.0L234.3 163.3L230.0 167.6L225.7 163.3Z"/>
<path d="M238.0 157.0L242.3 161.3L238.0 165.6L233.7 161.3Z"/>
<path d="M245.4 148.0L249.7 152.3L245.4 156.6L241.1 152.3Z"/>
<path d="M245.4 155.0L249.7 159.3L245.4 163.6L241.1 159.3Z"/>
<path d="M253.0 143.0L257.3 147.3L253.0 151.6L248.7 147.3Z"/>
<path d="M245.4 168.6L249.7 172.9L245.4 177.2L241.1 172.9Z"/>
<path d="M268.4 127.0L272.7 131.3L268.4 135.6L264.1 131.3Z"/>
<path d="M260.0 137.0L264.3 141.3L260.0 145.6L255.7 141.3Z"/>
<path d="M266.0 136.0L270.3 140.3L266.0 144.6L261.7 140.3Z"/>
<path d="M266.0 140.0L270.3 144.3L266.0 148.6L261.7 144.3Z"/>
<path d="M260.0 159.0L264.3 163.3L260.0 167.6L255.7 163.3Z"/>
<path d="M260.0 171.0L264.3 175.3L260.0 179.6L255.7 175.3Z"/>
<path d="M260.0 179.0L264.3 183.3L260.0 187.6L255.7 183.3Z"/>
<path d="M265.0 149.0L269.3 153.3L265.0 157.6L260.7 153.3Z"/>
<path d="M265.0 155.0L269.3 159.3L265.0 163.6L260.7 159.3Z"/>
<path d="M265.0 161.0L269.3 165.3L265.0 169.6L260.7 165.3Z"/>
<path d="M265.0 167.0L269.3 171.3L265.0 175.6L260.7 171.3Z"/>
<path d="M265.0 173.0L269.3 177.3L265.0 181.6L260.7 177.3Z"/>
<path d="M270.0 143.0L274.3 147.3L270.0 151.6L265.7 147.3Z"/>
<path d="M270.0 151.0L274.3 155.3L270.0 159.6L265.7 155.3Z"/>
<path d="M270.0 159.0L274.3 163.3L270.0 167.6L265.7 163.3Z"/>
<path d="M270.0 167.0L274.3 171.3L270.0 175.6L265.7 171.3Z"/>
<path d="M270.0 175.0L274.3 179.3L270.0 183.6L265.7 179.3Z"/>
<path d="M275.0 141.0L279.3 145.3L275.0 149.6L270.7 145.3Z"/>
<path d="M275.0 149.0L279.3 153.3L275.0 157.6L270.7 153.3Z"/>
<path d="M275.0 155.0L279.3 159.3L275.0 163.6L270.7 159.3Z"/>
<path d="M275.0 163.0L279.3 167.3L275.0 171.6L270.7 167.3Z"/>
<path d="M275.0 171.0L279.3 175.3L275.0 179.6L270.7 175.3Z"/>
<path d="M275.0 179.0L279.3 183.3L275.0 187.6L270.7 183.3Z"/>
<path d="M280.0 139.0L284.3 143.3L280.0 147.6L275.7 143.3Z"/>
<path d="M280.0 147.0L284.3 151.3L280.0 155.6L275.7 151.3Z"/>
<path d="M280.0 155.0L284.3 159.3L280.0 163.6L275.7 159.3Z"/>
<path d="M280.0 173.0L284.3 177.3L280.0 181.6L275.7 177.3Z"/>
<path d="M285.0 141.0L289.3 145.3L285.0 149.6L280.7 145.3Z"/>
<path d="M285.0 151.0L289.3 155.3L285.0 159.6L280.7 155.3Z"/>
<path d="M285.0 159.0L289.3 163.3L285.0 167.6L280.7 163.3Z"/>
<path d="M285.0 175.0L289.3 179.3L285.0 183.6L280.7 179.3Z"/>
<path d="M287.0 132.0L291.3 136.3L287.0 140.6L282.7 136.3Z"/>
<path d="M287.0 117.0L291.3 121.3L287.0 125.6L282.7 121.3Z"/>
<path d="M287.0 94.0L291.3 98.3L287.0 102.6L282.7 98.3Z"/>
<path d="M291.0 104.6L295.3 108.9L291.0 113.2L286.7 108.9Z"/>
<path d="M291.0 122.0L295.3 126.3L291.0 130.6L286.7 126.3Z"/>
<path d="M291.0 143.0L295.3 147.3L291.0 151.6L286.7 147.3Z"/>
<path d="M291.0 151.0L295.3 155.3L291.0 159.6L286.7 155.3Z"/>
<path d="M291.0 160.0L295.3 164.3L291.0 168.6L286.7 164.3Z"/>
<path d="M291.0 169.0L295.3 173.3L291.0 177.6L286.7 173.3Z"/>
<path d="M291.0 177.0L295.3 181.3L291.0 185.6L286.7 181.3Z"/>
<path d="M295.0 147.0L299.3 151.3L295.0 155.6L290.7 151.3Z"/>
<path d="M295.0 161.0L299.3 165.3L295.0 169.6L290.7 165.3Z"/>
<path d="M295.0 167.0L299.3 171.3L295.0 175.6L290.7 171.3Z"/>
<path d="M295.0 177.0L299.3 181.3L295.0 185.6L290.7 181.3Z"/>
<path d="M298.0 113.0L302.3 117.3L298.0 121.6L293.7 117.3Z"/>
<path d="M298.0 125.0L302.3 129.3L298.0 133.6L293.7 129.3Z"/>
<path d="M298.0 136.0L302.3 140.3L298.0 144.6L293.7 140.3Z"/>
<path d="M298.0 145.0L302.3 149.3L298.0 153.6L293.7 149.3Z"/>
<path d="M298.0 153.0L302.3 157.3L298.0 161.6L293.7 157.3Z"/>
<path d="M298.0 170.0L302.3 174.3L298.0 178.6L293.7 174.3Z"/>
<path d="M298.0 179.0L302.3 183.3L298.0 187.6L293.7 183.3Z"/>
<path d="M302.0 147.0L306.3 151.3L302.0 155.6L297.7 151.3Z"/>
<path d="M306.0 124.0L310.3 128.3L306.0 132.6L301.7 128.3Z"/>
<path d="M306.0 130.0L310.3 134.3L306.0 138.6L301.7 134.3Z"/>
<path d="M306.0 157.0L310.3 161.3L306.0 165.6L301.7 161.3Z"/>
<path d="M313.4 139.0L317.7 143.3L313.4 147.6L309.1 143.3Z"/>
<path d="M313.4 145.0L317.7 149.3L313.4 153.6L309.1 149.3Z"/>
<path d="M313.4 151.0L317.7 155.3L313.4 159.6L309.1 155.3Z"/>
<path d="M313.4 160.0L317.7 164.3L313.4 168.6L309.1 164.3Z"/>
<path d="M317.0 149.0L321.3 153.3L317.0 157.6L312.7 153.3Z"/>
<path d="M321.0 111.0L325.3 115.3L321.0 119.6L316.7 115.3Z"/>
<path d="M321.0 139.0L325.3 143.3L321.0 147.6L316.7 143.3Z"/>
<path d="M321.0 153.0L325.3 157.3L321.0 161.6L316.7 157.3Z"/>
<path d="M321.0 176.0L325.3 180.3L321.0 184.6L316.7 180.3Z"/>
<path d="M321.0 177.4L325.3 181.7L321.0 186.0L316.7 181.7Z"/>
<path d="M325.0 162.0L329.3 166.3L325.0 170.6L320.7 166.3Z"/>
<path d="M329.0 130.0L333.3 134.3L329.0 138.6L324.7 134.3Z"/>
<path d="M329.0 137.0L333.3 141.3L329.0 145.6L324.7 141.3Z"/>
<path d="M329.0 144.0L333.3 148.3L329.0 152.6L324.7 148.3Z"/>
<path d="M329.0 154.0L333.3 158.3L329.0 162.6L324.7 158.3Z"/>
<path d="M333.0 148.0L337.3 152.3L333.0 156.6L328.7 152.3Z"/>
<path d="M336.4 124.0L340.7 128.3L336.4 132.6L332.1 128.3Z"/>
<path d="M336.4 149.0L340.7 153.3L336.4 157.6L332.1 153.3Z"/>
<path d="M336.4 154.0L340.7 158.3L336.4 162.6L332.1 158.3Z"/>
<path d="M344.0 133.0L348.3 137.3L344.0 141.6L339.7 137.3Z"/>
<path d="M344.0 145.0L348.3 149.3L344.0 153.6L339.7 149.3Z"/>
<path d="M344.0 163.0L348.3 167.3L344.0 171.6L339.7 167.3Z"/>
<path d="M348.0 139.0L352.3 143.3L348.0 147.6L343.7 143.3Z"/>
<path d="M348.0 159.0L352.3 163.3L348.0 167.6L343.7 163.3Z"/>
<path d="M351.0 121.0L355.3 125.3L351.0 129.6L346.7 125.3Z"/>
<path d="M351.0 129.0L355.3 133.3L351.0 137.6L346.7 133.3Z"/>
<path d="M351.0 136.0L355.3 140.3L351.0 144.6L346.7 140.3Z"/>
<path d="M351.0 143.0L355.3 147.3L351.0 151.6L346.7 147.3Z"/>
<path d="M351.0 149.0L355.3 153.3L351.0 157.6L346.7 153.3Z"/>
<path d="M351.0 166.0L355.3 170.3L351.0 174.6L346.7 170.3Z"/>
<path d="M352.0 180.0L356.3 184.3L352.0 188.6L347.7 184.3Z"/>
<path d="M356.0 134.0L360.3 138.3L356.0 142.6L351.7 138.3Z"/>
<path d="M356.0 151.0L360.3 155.3L356.0 159.6L351.7 155.3Z"/>
<path d="M359.0 120.0L363.3 124.3L359.0 128.6L354.7 124.3Z"/>
<path d="M359.0 133.0L363.3 137.3L359.0 141.6L354.7 137.3Z"/>
<path d="M359.0 141.0L363.3 145.3L359.0 149.6L354.7 145.3Z"/>
<path d="M359.0 149.0L363.3 153.3L359.0 157.6L354.7 153.3Z"/>
<path d="M359.0 160.0L363.3 164.3L359.0 168.6L354.7 164.3Z"/>
<path d="M245.4 182.0L249.7 186.3L245.4 190.6L241.1 186.3Z"/>
<path d="M266.0 186.0L270.3 190.3L266.0 194.6L261.7 190.3Z"/>
<path d="M266.0 191.0L270.3 195.3L266.0 199.6L261.7 195.3Z"/>
<path d="M266.0 196.0L270.3 200.3L266.0 204.6L261.7 200.3Z"/>
<path d="M266.0 201.0L270.3 205.3L266.0 209.6L261.7 205.3Z"/>
<path d="M266.0 205.0L270.3 209.3L266.0 213.6L261.7 209.3Z"/>
<path d="M266.0 212.0L270.3 216.3L266.0 220.6L261.7 216.3Z"/>
<path d="M266.0 219.0L270.3 223.3L266.0 227.6L261.7 223.3Z"/>
<path d="M266.0 225.0L270.3 229.3L266.0 233.6L261.7 229.3Z"/>
<path d="M266.0 228.0L270.3 232.3L266.0 236.6L261.7 232.3Z"/>
<path d="M266.0 235.6L270.3 239.9L266.0 244.2L261.7 239.9Z"/>
<path d="M273.0 187.0L277.3 191.3L273.0 195.6L268.7 191.3Z"/>
<path d="M273.0 195.0L277.3 199.3L273.0 203.6L268.7 199.3Z"/>
<path d="M273.0 204.0L277.3 208.3L273.0 212.6L268.7 208.3Z"/>
<path d="M279.0 199.0L283.3 203.3L279.0 207.6L274.7 203.3Z"/>
<path d="M279.0 202.0L283.3 206.3L279.0 210.6L274.7 206.3Z"/>
<path d="M289.4 186.0L293.7 190.3L289.4 194.6L285.1 190.3Z"/>
<path d="M291.0 195.0L295.3 199.3L291.0 203.6L286.7 199.3Z"/>
<path d="M298.0 181.0L302.3 185.3L298.0 189.6L293.7 185.3Z"/>
<path d="M352.0 181.0L356.3 185.3L352.0 189.6L347.7 185.3Z"/>
<path d="M352.0 193.0L356.3 197.3L352.0 201.6L347.7 197.3Z"/>
<path d="M352.0 202.0L356.3 206.3L352.0 210.6L347.7 206.3Z"/>
<path d="M352.0 204.0L356.3 208.3L352.0 212.6L347.7 208.3Z"/>
<path d="M367.0 111.0L371.3 115.3L367.0 119.6L362.7 115.3Z"/>
<path d="M367.0 116.0L371.3 120.3L367.0 124.6L362.7 120.3Z"/>
<path d="M367.0 122.0L371.3 126.3L367.0 130.6L362.7 126.3Z"/>
<path d="M367.0 132.0L371.3 136.3L367.0 140.6L362.7 136.3Z"/>
<path d="M367.0 138.0L371.3 142.3L367.0 146.6L362.7 142.3Z"/>
<path d="M369.0 150.0L373.3 154.3L369.0 158.6L364.7 154.3Z"/>
<path d="M367.0 157.0L371.3 161.3L367.0 165.6L362.7 161.3Z"/>
<path d="M374.0 128.0L378.3 132.3L374.0 136.6L369.7 132.3Z"/>
<path d="M374.0 134.0L378.3 138.3L374.0 142.6L369.7 138.3Z"/>
<path d="M374.0 141.0L378.3 145.3L374.0 149.6L369.7 145.3Z"/>
<path d="M387.0 96.0L391.3 100.3L387.0 104.6L382.7 100.3Z"/>
<path d="M385.0 107.0L389.3 111.3L385.0 115.6L380.7 111.3Z"/>
<path d="M387.0 112.0L391.3 116.3L387.0 120.6L382.7 116.3Z"/>
<path d="M390.0 113.0L394.3 117.3L390.0 121.6L385.7 117.3Z"/>
<path d="M387.0 125.0L391.3 129.3L387.0 133.6L382.7 129.3Z"/>
<path d="M385.0 134.0L389.3 138.3L385.0 142.6L380.7 138.3Z"/>
<path d="M387.0 139.0L391.3 143.3L387.0 147.6L382.7 143.3Z"/>
<path d="M387.0 144.0L391.3 148.3L387.0 152.6L382.7 148.3Z"/>
<path d="M393.0 135.0L397.3 139.3L393.0 143.6L388.7 139.3Z"/>
<path d="M393.0 141.0L397.3 145.3L393.0 149.6L388.7 145.3Z"/>
<path d="M382.0 151.0L386.3 155.3L382.0 159.6L377.7 155.3Z"/>
<path d="M387.0 153.0L391.3 157.3L387.0 161.6L382.7 157.3Z"/>
<path d="M393.0 151.0L397.3 155.3L393.0 159.6L388.7 155.3Z"/>
<path d="M391.0 159.0L395.3 163.3L391.0 167.6L386.7 163.3Z"/>
<path d="M394.0 160.0L398.3 164.3L394.0 168.6L389.7 164.3Z"/>
<path d="M394.0 167.0L398.3 171.3L394.0 175.6L389.7 171.3Z"/>
<path d="M393.0 173.0L397.3 177.3L393.0 181.6L388.7 177.3Z"/>
<path d="M398.0 157.0L402.3 161.3L398.0 165.6L393.7 161.3Z"/>
<path d="M398.0 178.0L402.3 182.3L398.0 186.6L393.7 182.3Z"/>
<path d="M390.0 185.0L394.3 189.3L390.0 193.6L385.7 189.3Z"/>
<path d="M402.0 158.0L406.3 162.3L402.0 166.6L397.7 162.3Z"/>
<path d="M405.0 145.0L409.3 149.3L405.0 153.6L400.7 149.3Z"/>
<path d="M405.0 155.0L409.3 159.3L405.0 163.6L400.7 159.3Z"/>
<path d="M405.0 163.0L409.3 167.3L405.0 171.6L400.7 167.3Z"/>
<path d="M413.0 158.0L417.3 162.3L413.0 166.6L408.7 162.3Z"/>
<path d="M420.4 115.0L424.7 119.3L420.4 123.6L416.1 119.3Z"/>
<path d="M424.0 126.0L428.3 130.3L424.0 134.6L419.7 130.3Z"/>
<path d="M420.0 132.0L424.3 136.3L420.0 140.6L415.7 136.3Z"/>
<path d="M424.0 132.0L428.3 136.3L424.0 140.6L419.7 136.3Z"/>
<path d="M420.0 138.0L424.3 142.3L420.0 146.6L415.7 142.3Z"/>
<path d="M424.0 139.0L428.3 143.3L424.0 147.6L419.7 143.3Z"/>
<path d="M428.0 139.0L432.3 143.3L428.0 147.6L423.7 143.3Z"/>
<path d="M420.0 144.0L424.3 148.3L420.0 152.6L415.7 148.3Z"/>
<path d="M424.0 145.0L428.3 149.3L424.0 153.6L419.7 149.3Z"/>
<path d="M428.0 146.0L432.3 150.3L428.0 154.6L423.7 150.3Z"/>
<path d="M420.0 150.0L424.3 154.3L420.0 158.6L415.7 154.3Z"/>
<path d="M424.0 151.0L428.3 155.3L424.0 159.6L419.7 155.3Z"/>
<path d="M428.0 155.0L432.3 159.3L428.0 163.6L423.7 159.3Z"/>
<path d="M432.0 159.0L436.3 163.3L432.0 167.6L427.7 163.3Z"/>
<path d="M424.0 162.0L428.3 166.3L424.0 170.6L419.7 166.3Z"/>
<path d="M428.0 164.0L432.3 168.3L428.0 172.6L423.7 168.3Z"/>
<path d="M441.0 159.0L445.3 163.3L441.0 167.6L436.7 163.3Z"/>
<path d="M443.0 148.0L447.3 152.3L443.0 156.6L438.7 152.3Z"/>
<path d="M450.0 143.0L454.3 147.3L450.0 151.6L445.7 147.3Z"/>
<path d="M454.0 136.0L458.3 140.3L454.0 144.6L449.7 140.3Z"/>
<path d="M454.0 142.0L458.3 146.3L454.0 150.6L449.7 146.3Z"/>
<path d="M454.0 149.0L458.3 153.3L454.0 157.6L449.7 153.3Z"/>
<path d="M454.0 157.0L458.3 161.3L454.0 165.6L449.7 161.3Z"/>
<path d="M454.0 164.0L458.3 168.3L454.0 172.6L449.7 168.3Z"/>
<path d="M458.0 133.0L462.3 137.3L458.0 141.6L453.7 137.3Z"/>
<path d="M458.0 141.0L462.3 145.3L458.0 149.6L453.7 145.3Z"/>
<path d="M458.0 149.0L462.3 153.3L458.0 157.6L453.7 153.3Z"/>
<path d="M458.0 155.0L462.3 159.3L458.0 163.6L453.7 159.3Z"/>
<path d="M462.0 145.0L466.3 149.3L462.0 153.6L457.7 149.3Z"/>
<path d="M462.0 151.0L466.3 155.3L462.0 159.6L457.7 155.3Z"/>
<path d="M462.0 159.0L466.3 163.3L462.0 167.6L457.7 163.3Z"/>
<path d="M466.0 147.0L470.3 151.3L466.0 155.6L461.7 151.3Z"/>
<path d="M466.0 153.0L470.3 157.3L466.0 161.6L461.7 157.3Z"/>
<path d="M469.0 130.0L473.3 134.3L469.0 138.6L464.7 134.3Z"/>
<path d="M469.0 140.0L473.3 144.3L469.0 148.6L464.7 144.3Z"/>
<path d="M469.0 149.0L473.3 153.3L469.0 157.6L464.7 153.3Z"/>
<path d="M469.0 157.0L473.3 161.3L469.0 165.6L464.7 161.3Z"/>
<path d="M473.0 104.0L477.3 108.3L473.0 112.6L468.7 108.3Z"/>
<path d="M473.0 141.0L477.3 145.3L473.0 149.6L468.7 145.3Z"/>
<path d="M473.0 149.0L477.3 153.3L473.0 157.6L468.7 153.3Z"/>
<path d="M473.0 157.0L477.3 161.3L473.0 165.6L468.7 161.3Z"/>
<path d="M473.0 164.0L477.3 168.3L473.0 172.6L468.7 168.3Z"/>
<path d="M471.0 167.0L475.3 171.3L471.0 175.6L466.7 171.3Z"/>
<path d="M477.0 147.0L481.3 151.3L477.0 155.6L472.7 151.3Z"/>
<path d="M477.0 153.0L481.3 157.3L477.0 161.6L472.7 157.3Z"/>
<path d="M481.0 145.0L485.3 149.3L481.0 153.6L476.7 149.3Z"/>
<path d="M481.0 153.0L485.3 157.3L481.0 161.6L476.7 157.3Z"/>
<path d="M488.0 138.0L492.3 142.3L488.0 146.6L483.7 142.3Z"/>
<path d="M492.0 136.0L496.3 140.3L492.0 144.6L487.7 140.3Z"/>
<path d="M488.0 149.0L492.3 153.3L488.0 157.6L483.7 153.3Z"/>
<path d="M492.0 148.0L496.3 152.3L492.0 156.6L487.7 152.3Z"/>
<path d="M496.0 142.0L500.3 146.3L496.0 150.6L491.7 146.3Z"/>
<path d="M496.0 149.0L500.3 153.3L496.0 157.6L491.7 153.3Z"/>
<path d="M500.0 139.0L504.3 143.3L500.0 147.6L495.7 143.3Z"/>
<path d="M500.0 145.0L504.3 149.3L500.0 153.6L495.7 149.3Z"/>
<path d="M500.0 159.0L504.3 163.3L500.0 167.6L495.7 163.3Z"/>
<path d="M495.0 166.0L499.3 170.3L495.0 174.6L490.7 170.3Z"/>
<path d="M507.0 148.0L511.3 152.3L507.0 156.6L502.7 152.3Z"/>
<path d="M504.0 154.0L508.3 158.3L504.0 162.6L499.7 158.3Z"/>
<path d="M519.0 146.0L523.3 150.3L519.0 154.6L514.7 150.3Z"/>
<path d="M522.0 144.0L526.3 148.3L522.0 152.6L517.7 148.3Z"/>
<path d="M526.0 140.0L530.3 144.3L526.0 148.6L521.7 144.3Z"/>
<path d="M522.0 151.0L526.3 155.3L522.0 159.6L517.7 155.3Z"/>
<path d="M526.0 155.0L530.3 159.3L526.0 163.6L521.7 159.3Z"/>
<path d="M519.0 160.0L523.3 164.3L519.0 168.6L514.7 164.3Z"/>
<path d="M523.0 159.0L527.3 163.3L523.0 167.6L518.7 163.3Z"/>
<path d="M534.0 116.6L538.3 120.9L534.0 125.2L529.7 120.9Z"/>
<path d="M534.0 132.0L538.3 136.3L534.0 140.6L529.7 136.3Z"/>
<path d="M534.0 153.0L538.3 157.3L534.0 161.6L529.7 157.3Z"/>
<path d="M538.0 139.0L542.3 143.3L538.0 147.6L533.7 143.3Z"/>
<path d="M541.0 139.0L545.3 143.3L541.0 147.6L536.7 143.3Z"/>
<path d="M541.0 147.0L545.3 151.3L541.0 155.6L536.7 151.3Z"/>
<path d="M541.0 154.0L545.3 158.3L541.0 162.6L536.7 158.3Z"/>
<path d="M549.0 111.0L553.3 115.3L549.0 119.6L544.7 115.3Z"/>
<path d="M549.0 121.0L553.3 125.3L549.0 129.6L544.7 125.3Z"/>
<path d="M549.0 127.0L553.3 131.3L549.0 135.6L544.7 131.3Z"/>
<path d="M549.0 134.0L553.3 138.3L549.0 142.6L544.7 138.3Z"/>
<path d="M549.0 141.0L553.3 145.3L549.0 149.6L544.7 145.3Z"/>
<path d="M549.0 148.0L553.3 152.3L549.0 156.6L544.7 152.3Z"/>
<path d="M549.0 155.0L553.3 159.3L549.0 163.6L544.7 159.3Z"/>
<path d="M553.0 131.0L557.3 135.3L553.0 139.6L548.7 135.3Z"/>
<path d="M553.0 139.0L557.3 143.3L553.0 147.6L548.7 143.3Z"/>
<path d="M553.0 147.0L557.3 151.3L553.0 155.6L548.7 151.3Z"/>
<path d="M553.0 155.0L557.3 159.3L553.0 163.6L548.7 159.3Z"/>
<path d="M556.0 115.0L560.3 119.3L556.0 123.6L551.7 119.3Z"/>
<path d="M556.0 143.0L560.3 147.3L556.0 151.6L551.7 147.3Z"/>
<path d="M556.0 151.0L560.3 155.3L556.0 159.6L551.7 155.3Z"/>
<path d="M556.0 160.0L560.3 164.3L556.0 168.6L551.7 164.3Z"/>
<path d="M560.4 97.0L564.7 101.3L560.4 105.6L556.1 101.3Z"/>
<path d="M560.4 108.0L564.7 112.3L560.4 116.6L556.1 112.3Z"/>
<path d="M560.4 119.0L564.7 123.3L560.4 127.6L556.1 123.3Z"/>
<path d="M560.4 127.0L564.7 131.3L560.4 135.6L556.1 131.3Z"/>
<path d="M560.4 135.0L564.7 139.3L560.4 143.6L556.1 139.3Z"/>
<path d="M560.4 143.0L564.7 147.3L560.4 151.6L556.1 147.3Z"/>
<path d="M560.4 151.0L564.7 155.3L560.4 159.6L556.1 155.3Z"/>
<path d="M560.4 159.0L564.7 163.3L560.4 167.6L556.1 163.3Z"/>
<path d="M564.0 125.0L568.3 129.3L564.0 133.6L559.7 129.3Z"/>
<path d="M564.0 133.0L568.3 137.3L564.0 141.6L559.7 137.3Z"/>
<path d="M564.0 141.0L568.3 145.3L564.0 149.6L559.7 145.3Z"/>
<path d="M564.0 149.0L568.3 153.3L564.0 157.6L559.7 153.3Z"/>
<path d="M564.0 157.0L568.3 161.3L564.0 165.6L559.7 161.3Z"/>
<path d="M564.0 166.0L568.3 170.3L564.0 174.6L559.7 170.3Z"/>
<path d="M564.0 171.0L568.3 175.3L564.0 179.6L559.7 175.3Z"/>
<path d="M568.0 137.0L572.3 141.3L568.0 145.6L563.7 141.3Z"/>
<path d="M568.0 145.0L572.3 149.3L568.0 153.6L563.7 149.3Z"/>
<path d="M568.0 153.0L572.3 157.3L568.0 161.6L563.7 157.3Z"/>
<path d="M572.0 135.0L576.3 139.3L572.0 143.6L567.7 139.3Z"/>
<path d="M572.0 143.0L576.3 147.3L572.0 151.6L567.7 147.3Z"/>
<path d="M572.0 151.0L576.3 155.3L572.0 159.6L567.7 155.3Z"/>
<path d="M572.0 159.0L576.3 163.3L572.0 167.6L567.7 163.3Z"/>
<path d="M576.0 103.0L580.3 107.3L576.0 111.6L571.7 107.3Z"/>
<path d="M576.0 139.0L580.3 143.3L576.0 147.6L571.7 143.3Z"/>
<path d="M576.0 147.0L580.3 151.3L576.0 155.6L571.7 151.3Z"/>
<path d="M576.0 155.0L580.3 159.3L576.0 163.6L571.7 159.3Z"/>
<path d="M576.0 164.0L580.3 168.3L576.0 172.6L571.7 168.3Z"/>
<path d="M579.4 129.0L583.7 133.3L579.4 137.6L575.1 133.3Z"/>
<path d="M579.4 137.0L583.7 141.3L579.4 145.6L575.1 141.3Z"/>
<path d="M579.4 145.0L583.7 149.3L579.4 153.6L575.1 149.3Z"/>
<path d="M579.4 153.0L583.7 157.3L579.4 161.6L575.1 157.3Z"/>
<path d="M583.0 141.0L587.3 145.3L583.0 149.6L578.7 145.3Z"/>
<path d="M583.0 149.0L587.3 153.3L583.0 157.6L578.7 153.3Z"/>
<path d="M583.0 157.0L587.3 161.3L583.0 165.6L578.7 161.3Z"/>
<path d="M583.0 178.0L587.3 182.3L583.0 186.6L578.7 182.3Z"/>
<path d="M587.0 99.0L591.3 103.3L587.0 107.6L582.7 103.3Z"/>
<path d="M587.0 145.0L591.3 149.3L587.0 153.6L582.7 149.3Z"/>
<path d="M587.0 153.0L591.3 157.3L587.0 161.6L582.7 157.3Z"/>
<path d="M587.0 161.0L591.3 165.3L587.0 169.6L582.7 165.3Z"/>
<path d="M587.0 174.0L591.3 178.3L587.0 182.6L582.7 178.3Z"/>
<path d="M591.0 143.0L595.3 147.3L591.0 151.6L586.7 147.3Z"/>
<path d="M591.0 151.0L595.3 155.3L591.0 159.6L586.7 155.3Z"/>
<path d="M591.0 159.0L595.3 163.3L591.0 167.6L586.7 163.3Z"/>
<path d="M594.0 105.0L598.3 109.3L594.0 113.6L589.7 109.3Z"/>
<path d="M594.0 138.0L598.3 142.3L594.0 146.6L589.7 142.3Z"/>
<path d="M594.0 145.0L598.3 149.3L594.0 153.6L589.7 149.3Z"/>
<path d="M594.0 153.0L598.3 157.3L594.0 161.6L589.7 157.3Z"/>
<path d="M594.0 165.0L598.3 169.3L594.0 173.6L589.7 169.3Z"/>
<path d="M594.0 174.0L598.3 178.3L594.0 182.6L589.7 178.3Z"/>
<path d="M598.0 149.0L602.3 153.3L598.0 157.6L593.7 153.3Z"/>
<path d="M598.0 155.0L602.3 159.3L598.0 163.6L593.7 159.3Z"/>
<path d="M598.0 162.0L602.3 166.3L598.0 170.6L593.7 166.3Z"/>
<path d="M584.6 142.5L588.9 146.8L584.6 151.1L580.3 146.8Z"/>
<path d="M555.0 148.8L559.3 153.1L555.0 157.4L550.7 153.1Z"/>
<path d="M586.1 146.5L590.4 150.8L586.1 155.1L581.8 150.8Z"/>
<path d="M567.2 132.3L571.5 136.6L567.2 140.9L562.9 136.6Z"/>
<path d="M582.9 138.9L587.2 143.2L582.9 147.5L578.6 143.2Z"/>
<path d="M556.9 143.2L561.2 147.5L556.9 151.8L552.6 147.5Z"/>
<path d="M556.9 148.5L561.2 152.8L556.9 157.1L552.6 152.8Z"/>
<path d="M552.1 137.4L556.4 141.7L552.1 146.0L547.8 141.7Z"/>
<path d="M585.4 152.5L589.7 156.8L585.4 161.1L581.1 156.8Z"/>
<path d="M586.0 141.5L590.3 145.8L586.0 150.1L581.7 145.8Z"/>
<path d="M551.0 157.0L555.3 161.3L551.0 165.6L546.7 161.3Z"/>
<path d="M591.0 141.9L595.3 146.2L591.0 150.5L586.7 146.2Z"/>
<path d="M578.3 153.4L582.6 157.7L578.3 162.0L574.0 157.7Z"/>
<path d="M553.0 143.1L557.3 147.4L553.0 151.7L548.7 147.4Z"/>
<path d="M590.0 135.9L594.3 140.2L590.0 144.5L585.7 140.2Z"/>
<path d="M578.5 150.9L582.8 155.2L578.5 159.5L574.2 155.2Z"/>
<path d="M577.3 138.4L581.6 142.7L577.3 147.0L573.0 142.7Z"/>
<path d="M558.0 137.3L562.3 141.6L558.0 145.9L553.7 141.6Z"/>
<path d="M550.9 146.8L555.2 151.1L550.9 155.4L546.6 151.1Z"/>
<path d="M592.2 148.7L596.5 153.0L592.2 157.3L587.9 153.0Z"/>
<path d="M555.9 150.4L560.2 154.7L555.9 159.0L551.6 154.7Z"/>
<path d="M593.7 147.1L598.0 151.4L593.7 155.7L589.4 151.4Z"/>
<path d="M589.7 141.6L594.0 145.9L589.7 150.2L585.4 145.9Z"/>
<path d="M587.8 140.9L592.1 145.2L587.8 149.5L583.5 145.2Z"/>
<path d="M563.9 137.0L568.2 141.3L563.9 145.6L559.6 141.3Z"/>
<path d="M566.9 133.4L571.2 137.7L566.9 142.0L562.6 137.7Z"/>
<path d="M584.8 148.8L589.1 153.1L584.8 157.4L580.5 153.1Z"/>
<path d="M578.9 143.7L583.2 148.0L578.9 152.3L574.6 148.0Z"/>
<path d="M566.9 149.9L571.2 154.2L566.9 158.5L562.6 154.2Z"/>
<path d="M565.9 141.4L570.2 145.7L565.9 150.0L561.6 145.7Z"/>
<path d="M549.2 145.3L553.5 149.6L549.2 153.9L544.9 149.6Z"/>
<path d="M594.4 138.6L598.7 142.9L594.4 147.2L590.1 142.9Z"/>
<path d="M577.5 146.9L581.8 151.2L577.5 155.5L573.2 151.2Z"/>
<path d="M586.7 151.4L591.0 155.7L586.7 160.0L582.4 155.7Z"/>
<path d="M567.4 135.4L571.7 139.7L567.4 144.0L563.1 139.7Z"/>
<path d="M552.1 141.6L556.4 145.9L552.1 150.2L547.8 145.9Z"/>
<path d="M585.9 150.1L590.2 154.4L585.9 158.7L581.6 154.4Z"/>
<path d="M572.2 144.4L576.5 148.7L572.2 153.0L567.9 148.7Z"/>
<path d="M555.0 143.9L559.3 148.2L555.0 152.5L550.7 148.2Z"/>
<path d="M591.4 141.4L595.7 145.7L591.4 150.0L587.1 145.7Z"/>
<path d="M552.7 154.8L557.0 159.1L552.7 163.4L548.4 159.1Z"/>
<path d="M583.6 152.8L587.9 157.1L583.6 161.4L579.3 157.1Z"/>
<path d="M585.1 139.7L589.4 144.0L585.1 148.3L580.8 144.0Z"/>
<path d="M550.2 153.5L554.5 157.8L550.2 162.1L545.9 157.8Z"/>
<path d="M580.9 149.0L585.2 153.3L580.9 157.6L576.6 153.3Z"/>
<path d="M599.6 153.4L603.9 157.7L599.6 162.0L595.3 157.7Z"/>
<path d="M599.6 162.2L603.9 166.5L599.6 170.8L595.3 166.5Z"/>
<path d="M605.4 151.3L609.7 155.6L605.4 159.9L601.1 155.6Z"/>
<path d="M603.2 155.6L607.5 159.9L603.2 164.2L598.9 159.9Z"/>
<path d="M608.4 154.2L612.7 158.5L608.4 162.8L604.1 158.5Z"/>
<path d="M608.4 159.3L612.7 163.6L608.4 167.9L604.1 163.6Z"/>
<path d="M612.0 149.8L616.3 154.1L612.0 158.4L607.7 154.1Z"/>
<path d="M612.0 157.1L616.3 161.4L612.0 165.7L607.7 161.4Z"/>
<path d="M614.9 143.2L619.2 147.5L614.9 151.8L610.6 147.5Z"/>
<path d="M617.8 146.1L622.1 150.4L617.8 154.7L613.5 150.4Z"/>
<path d="M620.0 149.8L624.3 154.1L620.0 158.4L615.7 154.1Z"/>
<path d="M623.0 151.3L627.3 155.6L623.0 159.9L618.7 155.6Z"/>
<path d="M625.1 149.8L629.4 154.1L625.1 158.4L620.8 154.1Z"/>
<path d="M624.4 154.2L628.7 158.5L624.4 162.8L620.1 158.5Z"/>
<path d="M631.7 146.1L636.0 150.4L631.7 154.7L627.4 150.4Z"/>
<path d="M639.0 146.9L643.3 151.2L639.0 155.5L634.7 151.2Z"/>
<path d="M636.8 152.7L641.1 157.0L636.8 161.3L632.5 157.0Z"/>
<path d="M640.5 151.3L644.8 155.6L640.5 159.9L636.2 155.6Z"/>
<path d="M643.4 149.1L647.7 153.4L643.4 157.7L639.1 153.4Z"/>
<path d="M639.0 154.9L643.3 159.2L639.0 163.5L634.7 159.2Z"/>
<path d="M648.5 146.6L652.8 150.9L648.5 155.2L644.2 150.9Z"/>
<path d="M649.2 152.7L653.5 157.0L649.2 161.3L644.9 157.0Z"/>
<path d="M651.4 163.7L655.7 168.0L651.4 172.3L647.1 168.0Z"/>
<path d="M652.9 149.8L657.2 154.1L652.9 158.4L648.6 154.1Z"/>
<path d="M655.1 151.3L659.4 155.6L655.1 159.9L650.8 155.6Z"/>
<path d="M657.3 154.9L661.6 159.2L657.3 163.5L653.0 159.2Z"/>
<path d="M657.3 145.4L661.6 149.7L657.3 154.0L653.0 149.7Z"/>
<path d="M659.5 147.6L663.8 151.9L659.5 156.2L655.2 151.9Z"/>
<path d="M661.6 144.0L665.9 148.3L661.6 152.6L657.3 148.3Z"/>
<path d="M661.6 149.8L665.9 154.1L661.6 158.4L657.3 154.1Z"/>
<path d="M664.6 139.6L668.9 143.9L664.6 148.2L660.3 143.9Z"/>
<path d="M664.6 144.7L668.9 149.0L664.6 153.3L660.3 149.0Z"/>
<path d="M666.8 142.5L671.1 146.8L666.8 151.1L662.5 146.8Z"/>
<path d="M668.2 147.6L672.5 151.9L668.2 156.2L663.9 151.9Z"/>
<path d="M670.4 142.5L674.7 146.8L670.4 151.1L666.1 146.8Z"/>
<path d="M672.6 147.6L676.9 151.9L672.6 156.2L668.3 151.9Z"/>
<path d="M673.3 141.0L677.6 145.3L673.3 149.6L669.0 145.3Z"/>
<path d="M675.5 138.1L679.8 142.4L675.5 146.7L671.2 142.4Z"/>
<path d="M676.2 134.5L680.5 138.8L676.2 143.1L671.9 138.8Z"/>
<path d="M678.4 131.5L682.7 135.8L678.4 140.1L674.1 135.8Z"/>
</g>
<g fill="#7F7F7F" stroke="#151515" stroke-width="0.95">
<circle cx="84.0" cy="450.1" r="3.7"/>
<circle cx="101.4" cy="410.9" r="3.7"/>
<circle cx="101.4" cy="432.2" r="3.7"/>
<circle cx="101.4" cy="435.2" r="3.7"/>
<circle cx="101.4" cy="452.2" r="3.7"/>
<circle cx="101.4" cy="461.2" r="3.7"/>
<circle cx="101.4" cy="463.2" r="3.7"/>
<circle cx="114.5" cy="450.9" r="3.7"/>
<circle cx="114.6" cy="449.9" r="3.7"/>
<circle cx="114.4" cy="447.2" r="3.7"/>
<circle cx="114.5" cy="445.9" r="3.7"/>
<circle cx="114.6" cy="444.2" r="3.7"/>
<circle cx="114.7" cy="442.6" r="3.7"/>
<circle cx="114.6" cy="441.8" r="3.7"/>
<circle cx="114.8" cy="439.2" r="3.7"/>
<circle cx="114.6" cy="438.4" r="3.7"/>
<circle cx="114.8" cy="436.4" r="3.7"/>
<circle cx="114.4" cy="435.4" r="3.7"/>
<circle cx="114.5" cy="433.6" r="3.7"/>
<circle cx="114.6" cy="432.1" r="3.7"/>
<circle cx="114.5" cy="429.9" r="3.7"/>
<circle cx="114.6" cy="428.6" r="3.7"/>
<circle cx="114.5" cy="426.4" r="3.7"/>
<circle cx="114.6" cy="424.9" r="3.7"/>
<circle cx="114.6" cy="423.8" r="3.7"/>
<circle cx="114.5" cy="422.8" r="3.7"/>
<circle cx="114.8" cy="420.4" r="3.7"/>
<circle cx="114.5" cy="419.1" r="3.7"/>
<circle cx="114.6" cy="416.9" r="3.7"/>
<circle cx="114.5" cy="416.1" r="3.7"/>
<circle cx="114.7" cy="414.4" r="3.7"/>
<circle cx="114.7" cy="412.9" r="3.7"/>
<circle cx="114.8" cy="410.6" r="3.7"/>
<circle cx="114.4" cy="408.8" r="3.7"/>
<circle cx="117.0" cy="415.2" r="3.7"/>
<circle cx="117.0" cy="409.2" r="3.7"/>
<circle cx="117.0" cy="406.2" r="3.7"/>
<circle cx="114.6" cy="452.2" r="3.7"/>
<circle cx="114.6" cy="441.2" r="3.7"/>
<circle cx="114.6" cy="434.2" r="3.7"/>
<circle cx="114.6" cy="424.2" r="3.7"/>
<circle cx="114.6" cy="419.2" r="3.7"/>
<circle cx="114.6" cy="408.2" r="3.7"/>
<circle cx="150.7" cy="466.9" r="3.7"/>
<circle cx="150.5" cy="465.1" r="3.7"/>
<circle cx="150.1" cy="463.9" r="3.7"/>
<circle cx="150.4" cy="462.6" r="3.7"/>
<circle cx="150.3" cy="461.9" r="3.7"/>
<circle cx="150.6" cy="460.9" r="3.7"/>
<circle cx="150.7" cy="459.1" r="3.7"/>
<circle cx="150.1" cy="457.8" r="3.7"/>
<circle cx="150.4" cy="457.1" r="3.7"/>
<circle cx="150.6" cy="455.9" r="3.7"/>
<circle cx="150.7" cy="455.1" r="3.7"/>
<circle cx="150.3" cy="453.9" r="3.7"/>
<circle cx="150.3" cy="452.4" r="3.7"/>
<circle cx="150.6" cy="450.8" r="3.7"/>
<circle cx="150.2" cy="449.4" r="3.7"/>
<circle cx="150.6" cy="449.1" r="3.7"/>
<circle cx="150.4" cy="447.1" r="3.7"/>
<circle cx="150.6" cy="445.9" r="3.7"/>
<circle cx="150.3" cy="445.6" r="3.7"/>
<circle cx="150.7" cy="444.4" r="3.7"/>
<circle cx="150.5" cy="442.9" r="3.7"/>
<circle cx="150.1" cy="441.6" r="3.7"/>
<circle cx="150.7" cy="439.9" r="3.7"/>
<circle cx="150.6" cy="439.6" r="3.7"/>
<circle cx="150.5" cy="437.4" r="3.7"/>
<circle cx="150.7" cy="436.4" r="3.7"/>
<circle cx="150.5" cy="435.1" r="3.7"/>
<circle cx="150.6" cy="433.8" r="3.7"/>
<circle cx="150.3" cy="432.9" r="3.7"/>
<circle cx="150.4" cy="431.9" r="3.7"/>
<circle cx="150.7" cy="430.9" r="3.7"/>
<circle cx="150.1" cy="429.6" r="3.7"/>
<circle cx="150.5" cy="428.2" r="3.7"/>
<circle cx="150.5" cy="426.9" r="3.7"/>
<circle cx="150.4" cy="426.1" r="3.7"/>
<circle cx="150.2" cy="424.6" r="3.7"/>
<circle cx="150.5" cy="423.6" r="3.7"/>
<circle cx="150.6" cy="421.9" r="3.7"/>
<circle cx="150.2" cy="420.6" r="3.7"/>
<circle cx="150.1" cy="419.4" r="3.7"/>
<circle cx="150.2" cy="418.1" r="3.7"/>
<circle cx="150.4" cy="417.4" r="3.7"/>
<circle cx="150.4" cy="416.4" r="3.7"/>
<circle cx="150.6" cy="415.1" r="3.7"/>
<circle cx="150.1" cy="414.1" r="3.7"/>
<circle cx="150.6" cy="413.1" r="3.7"/>
<circle cx="150.5" cy="411.2" r="3.7"/>
<circle cx="150.1" cy="409.9" r="3.7"/>
<circle cx="150.5" cy="408.9" r="3.7"/>
<circle cx="150.1" cy="408.1" r="3.7"/>
<circle cx="150.6" cy="406.2" r="3.7"/>
<circle cx="150.2" cy="405.4" r="3.7"/>
<circle cx="150.3" cy="404.1" r="3.7"/>
<circle cx="150.4" cy="403.1" r="3.7"/>
<circle cx="150.4" cy="401.6" r="3.7"/>
<circle cx="150.1" cy="400.1" r="3.7"/>
<circle cx="150.4" cy="399.6" r="3.7"/>
<circle cx="150.3" cy="397.8" r="3.7"/>
<circle cx="150.5" cy="396.9" r="3.7"/>
<circle cx="150.2" cy="395.6" r="3.7"/>
<circle cx="150.5" cy="394.9" r="3.7"/>
<circle cx="150.7" cy="393.9" r="3.7"/>
<circle cx="150.7" cy="392.6" r="3.7"/>
<circle cx="150.4" cy="384.2" r="3.7"/>
<circle cx="150.4" cy="391.6" r="3.7"/>
<circle cx="150.4" cy="398.2" r="3.7"/>
<circle cx="150.4" cy="405.2" r="3.7"/>
<circle cx="150.4" cy="413.2" r="3.7"/>
<circle cx="150.4" cy="421.2" r="3.7"/>
<circle cx="150.4" cy="428.9" r="3.7"/>
<circle cx="150.4" cy="442.2" r="3.7"/>
<circle cx="150.4" cy="452.2" r="3.7"/>
<circle cx="150.4" cy="462.2" r="3.7"/>
<circle cx="157.6" cy="456.9" r="3.7"/>
<circle cx="155.0" cy="469.2" r="3.7"/>
<circle cx="169.8" cy="427.9" r="3.7"/>
<circle cx="169.7" cy="428.4" r="3.7"/>
<circle cx="169.7" cy="430.4" r="3.7"/>
<circle cx="170.2" cy="430.9" r="3.7"/>
<circle cx="170.3" cy="432.4" r="3.7"/>
<circle cx="170.1" cy="434.1" r="3.7"/>
<circle cx="170.2" cy="435.1" r="3.7"/>
<circle cx="169.9" cy="435.8" r="3.7"/>
<circle cx="169.8" cy="436.8" r="3.7"/>
<circle cx="170.3" cy="438.9" r="3.7"/>
<circle cx="170.2" cy="439.2" r="3.7"/>
<circle cx="170.2" cy="440.9" r="3.7"/>
<circle cx="170.0" cy="441.6" r="3.7"/>
<circle cx="170.2" cy="443.4" r="3.7"/>
<circle cx="169.9" cy="444.2" r="3.7"/>
<circle cx="169.9" cy="445.4" r="3.7"/>
<circle cx="170.3" cy="446.4" r="3.7"/>
<circle cx="170.2" cy="448.4" r="3.7"/>
<circle cx="170.2" cy="449.4" r="3.7"/>
<circle cx="170.0" cy="450.2" r="3.7"/>
<circle cx="170.1" cy="451.9" r="3.7"/>
<circle cx="169.7" cy="452.9" r="3.7"/>
<circle cx="169.8" cy="454.1" r="3.7"/>
<circle cx="169.7" cy="455.4" r="3.7"/>
<circle cx="170.1" cy="456.9" r="3.7"/>
<circle cx="170.0" cy="457.4" r="3.7"/>
<circle cx="170.0" cy="458.9" r="3.7"/>
<circle cx="169.9" cy="460.4" r="3.7"/>
<circle cx="169.7" cy="461.1" r="3.7"/>
<circle cx="169.8" cy="462.6" r="3.7"/>
<circle cx="170.2" cy="464.1" r="3.7"/>
<circle cx="170.0" cy="413.6" r="3.7"/>
<circle cx="170.0" cy="423.2" r="3.7"/>
<circle cx="170.0" cy="434.2" r="3.7"/>
<circle cx="170.0" cy="439.2" r="3.7"/>
<circle cx="170.0" cy="444.2" r="3.7"/>
<circle cx="170.0" cy="453.2" r="3.7"/>
<circle cx="170.0" cy="463.2" r="3.7"/>
<circle cx="170.0" cy="473.2" r="3.7"/>
<circle cx="193.0" cy="450.9" r="3.7"/>
<circle cx="193.0" cy="446.9" r="3.7"/>
<circle cx="150.4" cy="369.9" r="3.7"/>
<circle cx="286.0" cy="323.9" r="3.7"/>
<circle cx="285.0" cy="332.2" r="3.7"/>
<circle cx="295.6" cy="324.2" r="3.7"/>
<circle cx="299.0" cy="325.2" r="3.7"/>
<circle cx="295.6" cy="331.2" r="3.7"/>
<circle cx="299.0" cy="332.2" r="3.7"/>
<circle cx="291.0" cy="337.9" r="3.7"/>
<circle cx="291.0" cy="344.2" r="3.7"/>
<circle cx="299.0" cy="346.2" r="3.7"/>
<circle cx="296.0" cy="349.2" r="3.7"/>
<circle cx="299.0" cy="349.2" r="3.7"/>
<circle cx="274.4" cy="345.2" r="3.7"/>
<circle cx="276.0" cy="350.2" r="3.7"/>
<circle cx="274.4" cy="354.2" r="3.7"/>
<circle cx="274.4" cy="358.2" r="3.7"/>
<circle cx="274.4" cy="364.2" r="3.7"/>
<circle cx="274.4" cy="370.2" r="3.7"/>
<circle cx="274.4" cy="375.2" r="3.7"/>
<circle cx="274.4" cy="379.2" r="3.7"/>
<circle cx="285.4" cy="379.9" r="3.7"/>
<circle cx="285.0" cy="377.4" r="3.7"/>
<circle cx="284.8" cy="375.9" r="3.7"/>
<circle cx="285.1" cy="374.1" r="3.7"/>
<circle cx="285.2" cy="372.4" r="3.7"/>
<circle cx="285.3" cy="371.2" r="3.7"/>
<circle cx="284.9" cy="368.1" r="3.7"/>
<circle cx="285.0" cy="366.4" r="3.7"/>
<circle cx="285.0" cy="366.1" r="3.7"/>
<circle cx="285.4" cy="363.9" r="3.7"/>
<circle cx="284.8" cy="361.1" r="3.7"/>
<circle cx="285.3" cy="360.6" r="3.7"/>
<circle cx="285.1" cy="357.4" r="3.7"/>
<circle cx="285.4" cy="356.2" r="3.7"/>
<circle cx="290.6" cy="379.4" r="3.7"/>
<circle cx="291.1" cy="377.9" r="3.7"/>
<circle cx="291.5" cy="376.9" r="3.7"/>
<circle cx="291.2" cy="375.2" r="3.7"/>
<circle cx="291.2" cy="373.9" r="3.7"/>
<circle cx="291.2" cy="371.9" r="3.7"/>
<circle cx="290.7" cy="370.8" r="3.7"/>
<circle cx="291.3" cy="367.9" r="3.7"/>
<circle cx="290.4" cy="366.8" r="3.7"/>
<circle cx="291.6" cy="365.1" r="3.7"/>
<circle cx="290.9" cy="363.4" r="3.7"/>
<circle cx="290.4" cy="362.8" r="3.7"/>
<circle cx="291.5" cy="360.6" r="3.7"/>
<circle cx="291.5" cy="358.8" r="3.7"/>
<circle cx="290.7" cy="356.9" r="3.7"/>
<circle cx="290.8" cy="355.6" r="3.7"/>
<circle cx="290.6" cy="353.8" r="3.7"/>
<circle cx="291.2" cy="352.2" r="3.7"/>
<circle cx="296.2" cy="379.4" r="3.7"/>
<circle cx="296.6" cy="377.9" r="3.7"/>
<circle cx="296.4" cy="375.8" r="3.7"/>
<circle cx="296.2" cy="374.8" r="3.7"/>
<circle cx="296.4" cy="372.1" r="3.7"/>
<circle cx="296.2" cy="371.4" r="3.7"/>
<circle cx="296.4" cy="369.1" r="3.7"/>
<circle cx="296.5" cy="367.2" r="3.7"/>
<circle cx="296.0" cy="365.8" r="3.7"/>
<circle cx="296.6" cy="365.4" r="3.7"/>
<circle cx="296.5" cy="363.8" r="3.7"/>
<circle cx="295.8" cy="361.4" r="3.7"/>
<circle cx="296.1" cy="359.2" r="3.7"/>
<circle cx="296.2" cy="358.6" r="3.7"/>
<circle cx="295.5" cy="357.2" r="3.7"/>
<circle cx="295.9" cy="354.4" r="3.7"/>
<circle cx="296.2" cy="353.1" r="3.7"/>
<circle cx="296.3" cy="352.1" r="3.7"/>
<circle cx="296.0" cy="350.9" r="3.7"/>
<circle cx="299.7" cy="380.1" r="3.7"/>
<circle cx="300.2" cy="377.6" r="3.7"/>
<circle cx="300.0" cy="376.9" r="3.7"/>
<circle cx="300.0" cy="374.6" r="3.7"/>
<circle cx="299.9" cy="373.1" r="3.7"/>
<circle cx="299.7" cy="370.2" r="3.7"/>
<circle cx="300.3" cy="369.4" r="3.7"/>
<circle cx="299.8" cy="366.6" r="3.7"/>
<circle cx="299.8" cy="365.4" r="3.7"/>
<circle cx="300.0" cy="363.9" r="3.7"/>
<circle cx="299.7" cy="362.6" r="3.7"/>
<circle cx="300.2" cy="360.9" r="3.7"/>
<circle cx="300.0" cy="358.4" r="3.7"/>
<circle cx="287.9" cy="378.1" r="3.7"/>
<circle cx="288.4" cy="376.9" r="3.7"/>
<circle cx="288.0" cy="372.1" r="3.7"/>
<circle cx="287.8" cy="369.1" r="3.7"/>
<circle cx="287.8" cy="364.9" r="3.7"/>
<circle cx="293.9" cy="378.9" r="3.7"/>
<circle cx="294.1" cy="377.9" r="3.7"/>
<circle cx="294.1" cy="373.4" r="3.7"/>
<circle cx="293.6" cy="371.8" r="3.7"/>
<circle cx="294.3" cy="367.6" r="3.7"/>
<circle cx="294.1" cy="366.4" r="3.7"/>
<circle cx="293.9" cy="362.1" r="3.7"/>
<circle cx="294.0" cy="360.4" r="3.7"/>
<circle cx="297.6" cy="377.4" r="3.7"/>
<circle cx="298.1" cy="374.1" r="3.7"/>
<circle cx="298.0" cy="372.4" r="3.7"/>
<circle cx="298.0" cy="367.6" r="3.7"/>
<circle cx="297.7" cy="366.6" r="3.7"/>
<circle cx="298.4" cy="363.4" r="3.7"/>
<circle cx="298.1" cy="360.4" r="3.7"/>
<circle cx="274.0" cy="354.9" r="3.7"/>
<circle cx="274.5" cy="356.4" r="3.7"/>
<circle cx="274.3" cy="357.9" r="3.7"/>
<circle cx="274.5" cy="361.1" r="3.7"/>
<circle cx="274.7" cy="362.4" r="3.7"/>
<circle cx="274.3" cy="365.1" r="3.7"/>
<circle cx="274.6" cy="366.1" r="3.7"/>
<circle cx="274.1" cy="369.1" r="3.7"/>
<circle cx="274.1" cy="371.1" r="3.7"/>
<circle cx="274.1" cy="372.8" r="3.7"/>
<circle cx="274.4" cy="374.8" r="3.7"/>
<circle cx="274.4" cy="375.9" r="3.7"/>
<circle cx="274.6" cy="377.9" r="3.7"/>
<circle cx="274.4" cy="363.6" r="3.7"/>
<circle cx="274.4" cy="371.2" r="3.7"/>
<circle cx="274.7" cy="354.2" r="3.7"/>
<circle cx="290.5" cy="360.9" r="3.7"/>
<circle cx="291.0" cy="351.4" r="3.7"/>
<circle cx="291.4" cy="378.2" r="3.7"/>
<circle cx="291.0" cy="368.8" r="3.7"/>
<circle cx="295.7" cy="353.6" r="3.7"/>
<circle cx="295.8" cy="367.9" r="3.7"/>
<circle cx="296.0" cy="362.2" r="3.7"/>
<circle cx="295.5" cy="375.8" r="3.7"/>
<circle cx="210.6" cy="448.4" r="3.7"/>
<circle cx="210.6" cy="449.1" r="3.7"/>
<circle cx="210.6" cy="449.6" r="3.7"/>
<circle cx="210.6" cy="450.2" r="3.7"/>
<circle cx="210.6" cy="450.9" r="3.7"/>
<circle cx="210.6" cy="451.4" r="3.7"/>
<circle cx="210.6" cy="452.2" r="3.7"/>
<circle cx="223.0" cy="444.9" r="3.7"/>
<circle cx="223.0" cy="456.2" r="3.7"/>
<circle cx="232.0" cy="478.2" r="3.7"/>
<circle cx="232.0" cy="473.2" r="3.7"/>
<circle cx="232.0" cy="467.2" r="3.7"/>
<circle cx="232.0" cy="461.2" r="3.7"/>
<circle cx="229.0" cy="457.2" r="3.7"/>
<circle cx="229.0" cy="453.2" r="3.7"/>
<circle cx="228.0" cy="449.2" r="3.7"/>
<circle cx="229.0" cy="445.2" r="3.7"/>
<circle cx="229.0" cy="441.2" r="3.7"/>
<circle cx="229.0" cy="437.2" r="3.7"/>
<circle cx="228.0" cy="434.2" r="3.7"/>
<circle cx="229.0" cy="431.2" r="3.7"/>
<circle cx="229.0" cy="428.2" r="3.7"/>
<circle cx="229.0" cy="425.2" r="3.7"/>
<circle cx="235.0" cy="455.2" r="3.7"/>
<circle cx="235.0" cy="449.2" r="3.7"/>
<circle cx="235.0" cy="443.2" r="3.7"/>
<circle cx="235.0" cy="437.2" r="3.7"/>
<circle cx="235.0" cy="433.2" r="3.7"/>
<circle cx="239.0" cy="452.2" r="3.7"/>
<circle cx="242.6" cy="443.6" r="3.7"/>
<circle cx="242.6" cy="450.2" r="3.7"/>
<circle cx="246.0" cy="451.2" r="3.7"/>
<circle cx="246.0" cy="457.2" r="3.7"/>
<circle cx="256.4" cy="452.2" r="3.7"/>
<circle cx="261.0" cy="449.2" r="3.7"/>
<circle cx="262.0" cy="441.2" r="3.7"/>
<circle cx="268.0" cy="471.2" r="3.7"/>
<circle cx="266.0" cy="465.2" r="3.7"/>
<circle cx="266.0" cy="457.2" r="3.7"/>
<circle cx="266.0" cy="450.2" r="3.7"/>
<circle cx="266.0" cy="441.2" r="3.7"/>
<circle cx="266.0" cy="435.2" r="3.7"/>
<circle cx="266.0" cy="429.2" r="3.7"/>
<circle cx="266.0" cy="423.2" r="3.7"/>
<circle cx="266.0" cy="416.2" r="3.7"/>
<circle cx="266.0" cy="406.2" r="3.7"/>
<circle cx="266.0" cy="401.2" r="3.7"/>
<circle cx="286.0" cy="456.1" r="3.7"/>
<circle cx="307.2" cy="447.4" r="3.7"/>
<circle cx="315.0" cy="449.6" r="3.7"/>
<circle cx="273.9" cy="450.8" r="3.7"/>
<circle cx="272.8" cy="450.8" r="3.7"/>
<circle cx="293.1" cy="450.2" r="3.7"/>
<circle cx="310.0" cy="440.2" r="3.7"/>
<circle cx="312.1" cy="452.1" r="3.7"/>
<circle cx="266.5" cy="446.4" r="3.7"/>
<circle cx="269.5" cy="447.4" r="3.7"/>
<circle cx="314.8" cy="449.4" r="3.7"/>
<circle cx="297.6" cy="454.9" r="3.7"/>
<circle cx="314.6" cy="447.8" r="3.7"/>
<circle cx="287.2" cy="446.1" r="3.7"/>
<circle cx="271.6" cy="461.8" r="3.7"/>
<circle cx="275.0" cy="447.1" r="3.7"/>
<circle cx="265.1" cy="449.6" r="3.7"/>
<circle cx="311.7" cy="453.4" r="3.7"/>
<circle cx="311.8" cy="450.2" r="3.7"/>
<circle cx="305.5" cy="448.6" r="3.7"/>
<circle cx="301.3" cy="442.6" r="3.7"/>
<circle cx="266.0" cy="440.4" r="3.7"/>
<circle cx="270.8" cy="449.9" r="3.7"/>
<circle cx="299.6" cy="440.1" r="3.7"/>
<circle cx="279.1" cy="443.9" r="3.7"/>
<circle cx="268.7" cy="445.9" r="3.7"/>
<circle cx="280.5" cy="449.6" r="3.7"/>
<circle cx="289.0" cy="451.8" r="3.7"/>
<circle cx="272.1" cy="449.9" r="3.7"/>
<circle cx="299.6" cy="451.9" r="3.7"/>
<circle cx="263.7" cy="449.1" r="3.7"/>
<circle cx="264.9" cy="447.1" r="3.7"/>
<circle cx="313.1" cy="451.4" r="3.7"/>
<circle cx="309.8" cy="458.9" r="3.7"/>
<circle cx="311.0" cy="452.4" r="3.7"/>
<circle cx="268.2" cy="453.1" r="3.7"/>
<circle cx="313.2" cy="452.8" r="3.7"/>
<circle cx="287.4" cy="444.9" r="3.7"/>
<circle cx="281.3" cy="451.6" r="3.7"/>
<circle cx="296.9" cy="445.6" r="3.7"/>
<circle cx="270.7" cy="449.9" r="3.7"/>
<circle cx="301.5" cy="450.9" r="3.7"/>
<circle cx="292.9" cy="454.6" r="3.7"/>
<circle cx="277.4" cy="456.1" r="3.7"/>
<circle cx="285.2" cy="451.4" r="3.7"/>
<circle cx="308.3" cy="452.2" r="3.7"/>
<circle cx="281.1" cy="451.9" r="3.7"/>
<circle cx="280.2" cy="453.6" r="3.7"/>
<circle cx="311.8" cy="458.1" r="3.7"/>
<circle cx="266.1" cy="456.9" r="3.7"/>
<circle cx="311.3" cy="448.2" r="3.7"/>
<circle cx="288.8" cy="447.2" r="3.7"/>
<circle cx="278.5" cy="449.6" r="3.7"/>
<circle cx="282.7" cy="452.4" r="3.7"/>
<circle cx="316.5" cy="458.8" r="3.7"/>
<circle cx="268.3" cy="449.6" r="3.7"/>
<circle cx="278.6" cy="450.8" r="3.7"/>
<circle cx="302.2" cy="448.9" r="3.7"/>
<circle cx="278.9" cy="450.4" r="3.7"/>
<circle cx="306.6" cy="449.6" r="3.7"/>
<circle cx="281.4" cy="449.9" r="3.7"/>
<circle cx="307.9" cy="449.9" r="3.7"/>
<circle cx="291.4" cy="451.4" r="3.7"/>
<circle cx="312.2" cy="453.6" r="3.7"/>
<circle cx="274.8" cy="447.6" r="3.7"/>
<circle cx="272.7" cy="448.8" r="3.7"/>
<circle cx="304.6" cy="449.1" r="3.7"/>
<circle cx="267.3" cy="447.1" r="3.7"/>
<circle cx="267.7" cy="446.1" r="3.7"/>
<circle cx="277.8" cy="446.8" r="3.7"/>
<circle cx="269.5" cy="468.8" r="3.7"/>
<circle cx="268.6" cy="464.1" r="3.7"/>
<circle cx="269.0" cy="462.6" r="3.7"/>
<circle cx="268.2" cy="458.8" r="3.7"/>
<circle cx="269.6" cy="453.2" r="3.7"/>
<circle cx="268.7" cy="450.4" r="3.7"/>
<circle cx="268.3" cy="446.4" r="3.7"/>
<circle cx="268.9" cy="442.1" r="3.7"/>
<circle cx="268.3" cy="438.1" r="3.7"/>
<circle cx="269.1" cy="432.1" r="3.7"/>
<circle cx="269.3" cy="430.4" r="3.7"/>
<circle cx="268.5" cy="425.6" r="3.7"/>
<circle cx="303.0" cy="473.9" r="3.7"/>
<circle cx="302.4" cy="469.6" r="3.7"/>
<circle cx="302.4" cy="467.8" r="3.7"/>
<circle cx="302.9" cy="464.1" r="3.7"/>
<circle cx="301.9" cy="461.6" r="3.7"/>
<circle cx="302.3" cy="457.6" r="3.7"/>
<circle cx="302.2" cy="453.9" r="3.7"/>
<circle cx="302.8" cy="450.9" r="3.7"/>
<circle cx="301.9" cy="446.8" r="3.7"/>
<circle cx="302.3" cy="442.6" r="3.7"/>
<circle cx="301.8" cy="438.9" r="3.7"/>
<circle cx="302.2" cy="435.6" r="3.7"/>
<circle cx="273.4" cy="381.2" r="3.7"/>
<circle cx="272.5" cy="384.1" r="3.7"/>
<circle cx="272.6" cy="384.9" r="3.7"/>
<circle cx="273.1" cy="387.6" r="3.7"/>
<circle cx="273.0" cy="389.6" r="3.7"/>
<circle cx="272.5" cy="391.6" r="3.7"/>
<circle cx="273.3" cy="392.1" r="3.7"/>
<circle cx="272.5" cy="394.6" r="3.7"/>
<circle cx="273.0" cy="396.1" r="3.7"/>
<circle cx="272.5" cy="398.1" r="3.7"/>
<circle cx="272.6" cy="400.1" r="3.7"/>
<circle cx="273.4" cy="401.2" r="3.7"/>
<circle cx="273.1" cy="404.1" r="3.7"/>
<circle cx="272.6" cy="405.9" r="3.7"/>
<circle cx="273.5" cy="407.1" r="3.7"/>
<circle cx="272.9" cy="409.6" r="3.7"/>
<circle cx="273.0" cy="410.6" r="3.7"/>
<circle cx="273.5" cy="413.1" r="3.7"/>
<circle cx="272.8" cy="414.1" r="3.7"/>
<circle cx="272.8" cy="416.1" r="3.7"/>
<circle cx="273.6" cy="418.6" r="3.7"/>
<circle cx="273.5" cy="420.4" r="3.7"/>
<circle cx="273.4" cy="420.9" r="3.7"/>
<circle cx="273.0" cy="424.1" r="3.7"/>
<circle cx="273.5" cy="424.9" r="3.7"/>
<circle cx="272.9" cy="427.2" r="3.7"/>
<circle cx="272.8" cy="428.9" r="3.7"/>
<circle cx="272.5" cy="430.6" r="3.7"/>
<circle cx="273.0" cy="431.6" r="3.7"/>
<circle cx="272.6" cy="435.1" r="3.7"/>
<circle cx="273.3" cy="436.8" r="3.7"/>
<circle cx="273.2" cy="438.4" r="3.7"/>
<circle cx="273.5" cy="440.2" r="3.7"/>
<circle cx="272.4" cy="441.6" r="3.7"/>
<circle cx="272.7" cy="443.6" r="3.7"/>
<circle cx="272.7" cy="445.1" r="3.7"/>
<circle cx="273.5" cy="447.1" r="3.7"/>
<circle cx="272.7" cy="448.6" r="3.7"/>
<circle cx="272.9" cy="451.1" r="3.7"/>
<circle cx="272.7" cy="451.9" r="3.7"/>
<circle cx="273.2" cy="453.4" r="3.7"/>
<circle cx="273.1" cy="456.6" r="3.7"/>
<circle cx="273.0" cy="457.2" r="3.7"/>
<circle cx="273.0" cy="459.6" r="3.7"/>
<circle cx="272.6" cy="460.6" r="3.7"/>
<circle cx="272.6" cy="462.8" r="3.7"/>
<circle cx="272.9" cy="464.6" r="3.7"/>
<circle cx="272.7" cy="465.9" r="3.7"/>
<circle cx="273.1" cy="469.1" r="3.7"/>
<circle cx="273.1" cy="470.4" r="3.7"/>
<circle cx="276.0" cy="471.2" r="3.7"/>
<circle cx="272.7" cy="416.4" r="3.7"/>
<circle cx="272.8" cy="472.4" r="3.7"/>
<circle cx="272.7" cy="465.1" r="3.7"/>
<circle cx="272.4" cy="433.1" r="3.7"/>
<circle cx="272.6" cy="381.9" r="3.7"/>
<circle cx="273.4" cy="441.1" r="3.7"/>
<circle cx="272.8" cy="405.1" r="3.7"/>
<circle cx="272.9" cy="425.9" r="3.7"/>
<circle cx="273.0" cy="389.6" r="3.7"/>
<circle cx="273.1" cy="452.1" r="3.7"/>
<circle cx="273.1" cy="397.9" r="3.7"/>
<circle cx="229.0" cy="456.2" r="3.7"/>
<circle cx="228.9" cy="453.9" r="3.7"/>
<circle cx="229.3" cy="452.4" r="3.7"/>
<circle cx="228.9" cy="450.9" r="3.7"/>
<circle cx="229.4" cy="448.8" r="3.7"/>
<circle cx="229.1" cy="446.9" r="3.7"/>
<circle cx="228.6" cy="445.4" r="3.7"/>
<circle cx="228.7" cy="443.9" r="3.7"/>
<circle cx="229.2" cy="442.1" r="3.7"/>
<circle cx="229.0" cy="440.1" r="3.7"/>
<circle cx="229.2" cy="438.2" r="3.7"/>
<circle cx="229.0" cy="436.4" r="3.7"/>
<circle cx="229.3" cy="434.8" r="3.7"/>
<circle cx="229.1" cy="432.6" r="3.7"/>
<circle cx="228.9" cy="430.4" r="3.7"/>
<circle cx="229.2" cy="428.2" r="3.7"/>
<circle cx="228.8" cy="427.8" r="3.7"/>
<circle cx="229.2" cy="424.6" r="3.7"/>
<circle cx="234.9" cy="433.4" r="3.7"/>
<circle cx="234.9" cy="434.9" r="3.7"/>
<circle cx="235.2" cy="437.9" r="3.7"/>
<circle cx="235.0" cy="439.1" r="3.7"/>
<circle cx="234.7" cy="440.9" r="3.7"/>
<circle cx="234.7" cy="443.4" r="3.7"/>
<circle cx="235.1" cy="444.6" r="3.7"/>
<circle cx="235.3" cy="446.9" r="3.7"/>
<circle cx="235.3" cy="449.9" r="3.7"/>
<circle cx="235.4" cy="450.8" r="3.7"/>
<circle cx="234.9" cy="453.9" r="3.7"/>
<circle cx="234.6" cy="454.4" r="3.7"/>
<circle cx="232.0" cy="477.1" r="3.7"/>
<circle cx="232.2" cy="476.1" r="3.7"/>
<circle cx="232.0" cy="472.9" r="3.7"/>
<circle cx="232.0" cy="470.6" r="3.7"/>
<circle cx="232.0" cy="468.9" r="3.7"/>
<circle cx="232.2" cy="466.1" r="3.7"/>
<circle cx="232.1" cy="463.8" r="3.7"/>
<circle cx="232.0" cy="462.1" r="3.7"/>
<circle cx="229.1" cy="437.4" r="3.7"/>
<circle cx="228.9" cy="425.8" r="3.7"/>
<circle cx="228.9" cy="453.2" r="3.7"/>
<circle cx="229.6" cy="443.1" r="3.7"/>
<circle cx="232.0" cy="461.2" r="3.7"/>
<circle cx="232.0" cy="467.2" r="3.7"/>
<circle cx="232.0" cy="473.2" r="3.7"/>
<circle cx="232.0" cy="478.2" r="3.7"/>
<circle cx="223.0" cy="444.9" r="3.7"/>
<circle cx="223.0" cy="456.2" r="3.7"/>
<circle cx="242.6" cy="443.6" r="3.7"/>
<circle cx="242.6" cy="450.2" r="3.7"/>
<circle cx="246.0" cy="451.2" r="3.7"/>
<circle cx="246.0" cy="457.2" r="3.7"/>
<circle cx="284.8" cy="477.4" r="3.7"/>
<circle cx="284.3" cy="476.8" r="3.7"/>
<circle cx="284.8" cy="474.1" r="3.7"/>
<circle cx="283.9" cy="472.8" r="3.7"/>
<circle cx="284.0" cy="471.8" r="3.7"/>
<circle cx="284.6" cy="469.6" r="3.7"/>
<circle cx="284.1" cy="467.6" r="3.7"/>
<circle cx="284.0" cy="466.4" r="3.7"/>
<circle cx="284.2" cy="464.6" r="3.7"/>
<circle cx="283.9" cy="463.9" r="3.7"/>
<circle cx="284.3" cy="461.2" r="3.7"/>
<circle cx="284.4" cy="460.1" r="3.7"/>
<circle cx="284.5" cy="458.1" r="3.7"/>
<circle cx="285.0" cy="456.8" r="3.7"/>
<circle cx="284.2" cy="454.9" r="3.7"/>
<circle cx="284.1" cy="453.4" r="3.7"/>
<circle cx="284.4" cy="452.6" r="3.7"/>
<circle cx="284.2" cy="451.1" r="3.7"/>
<circle cx="284.7" cy="448.6" r="3.7"/>
<circle cx="284.1" cy="447.2" r="3.7"/>
<circle cx="284.4" cy="446.4" r="3.7"/>
<circle cx="284.5" cy="444.9" r="3.7"/>
<circle cx="284.8" cy="442.4" r="3.7"/>
<circle cx="284.2" cy="441.6" r="3.7"/>
<circle cx="284.9" cy="439.9" r="3.7"/>
<circle cx="284.1" cy="437.1" r="3.7"/>
<circle cx="284.3" cy="436.4" r="3.7"/>
<circle cx="284.5" cy="435.4" r="3.7"/>
<circle cx="283.9" cy="433.6" r="3.7"/>
<circle cx="284.3" cy="431.2" r="3.7"/>
<circle cx="284.5" cy="429.6" r="3.7"/>
<circle cx="283.9" cy="428.9" r="3.7"/>
<circle cx="284.0" cy="426.4" r="3.7"/>
<circle cx="284.7" cy="424.9" r="3.7"/>
<circle cx="284.7" cy="423.1" r="3.7"/>
<circle cx="283.9" cy="421.1" r="3.7"/>
<circle cx="284.5" cy="420.6" r="3.7"/>
<circle cx="284.4" cy="419.1" r="3.7"/>
<circle cx="283.9" cy="416.6" r="3.7"/>
<circle cx="284.7" cy="414.9" r="3.7"/>
<circle cx="283.9" cy="413.4" r="3.7"/>
<circle cx="284.5" cy="412.1" r="3.7"/>
<circle cx="284.4" cy="411.4" r="3.7"/>
<circle cx="284.1" cy="409.2" r="3.7"/>
<circle cx="284.4" cy="407.6" r="3.7"/>
<circle cx="284.6" cy="405.4" r="3.7"/>
<circle cx="284.8" cy="404.4" r="3.7"/>
<circle cx="283.8" cy="402.4" r="3.7"/>
<circle cx="284.2" cy="401.4" r="3.7"/>
<circle cx="284.3" cy="399.9" r="3.7"/>
<circle cx="284.6" cy="397.1" r="3.7"/>
<circle cx="284.2" cy="396.9" r="3.7"/>
<circle cx="284.6" cy="394.8" r="3.7"/>
<circle cx="284.0" cy="392.6" r="3.7"/>
<circle cx="284.4" cy="391.4" r="3.7"/>
<circle cx="284.0" cy="389.6" r="3.7"/>
<circle cx="284.9" cy="388.1" r="3.7"/>
<circle cx="284.8" cy="387.4" r="3.7"/>
<circle cx="284.9" cy="385.4" r="3.7"/>
<circle cx="284.4" cy="382.9" r="3.7"/>
<circle cx="285.0" cy="382.4" r="3.7"/>
<circle cx="288.3" cy="382.9" r="3.7"/>
<circle cx="288.6" cy="385.4" r="3.7"/>
<circle cx="288.5" cy="388.9" r="3.7"/>
<circle cx="287.7" cy="391.6" r="3.7"/>
<circle cx="287.6" cy="394.9" r="3.7"/>
<circle cx="287.7" cy="398.2" r="3.7"/>
<circle cx="288.1" cy="399.8" r="3.7"/>
<circle cx="287.7" cy="403.1" r="3.7"/>
<circle cx="287.7" cy="406.6" r="3.7"/>
<circle cx="287.5" cy="408.4" r="3.7"/>
<circle cx="288.1" cy="410.6" r="3.7"/>
<circle cx="288.3" cy="413.8" r="3.7"/>
<circle cx="288.2" cy="417.1" r="3.7"/>
<circle cx="287.8" cy="419.4" r="3.7"/>
<circle cx="287.5" cy="421.6" r="3.7"/>
<circle cx="288.4" cy="424.8" r="3.7"/>
<circle cx="288.2" cy="427.1" r="3.7"/>
<circle cx="288.1" cy="430.6" r="3.7"/>
<circle cx="288.0" cy="433.1" r="3.7"/>
<circle cx="287.5" cy="435.9" r="3.7"/>
<circle cx="287.7" cy="438.4" r="3.7"/>
<circle cx="288.3" cy="441.6" r="3.7"/>
<circle cx="287.9" cy="445.9" r="3.7"/>
<circle cx="288.3" cy="448.6" r="3.7"/>
<circle cx="288.4" cy="449.6" r="3.7"/>
<circle cx="287.7" cy="452.1" r="3.7"/>
<circle cx="288.2" cy="456.4" r="3.7"/>
<circle cx="287.8" cy="458.6" r="3.7"/>
<circle cx="288.2" cy="462.1" r="3.7"/>
<circle cx="287.7" cy="465.4" r="3.7"/>
<circle cx="287.8" cy="467.6" r="3.7"/>
<circle cx="287.6" cy="469.1" r="3.7"/>
<circle cx="288.5" cy="473.4" r="3.7"/>
<circle cx="291.2" cy="477.4" r="3.7"/>
<circle cx="291.2" cy="476.9" r="3.7"/>
<circle cx="291.5" cy="474.9" r="3.7"/>
<circle cx="291.1" cy="472.4" r="3.7"/>
<circle cx="290.9" cy="471.1" r="3.7"/>
<circle cx="290.5" cy="469.9" r="3.7"/>
<circle cx="291.6" cy="468.4" r="3.7"/>
<circle cx="290.5" cy="466.9" r="3.7"/>
<circle cx="291.6" cy="465.4" r="3.7"/>
<circle cx="290.5" cy="462.8" r="3.7"/>
<circle cx="290.8" cy="461.4" r="3.7"/>
<circle cx="290.8" cy="460.2" r="3.7"/>
<circle cx="290.9" cy="458.1" r="3.7"/>
<circle cx="290.6" cy="457.4" r="3.7"/>
<circle cx="290.5" cy="455.1" r="3.7"/>
<circle cx="290.8" cy="453.4" r="3.7"/>
<circle cx="290.5" cy="451.9" r="3.7"/>
<circle cx="291.3" cy="451.1" r="3.7"/>
<circle cx="291.1" cy="448.9" r="3.7"/>
<circle cx="290.6" cy="447.6" r="3.7"/>
<circle cx="291.1" cy="446.2" r="3.7"/>
<circle cx="290.8" cy="444.8" r="3.7"/>
<circle cx="290.6" cy="442.8" r="3.7"/>
<circle cx="290.8" cy="441.6" r="3.7"/>
<circle cx="291.5" cy="439.2" r="3.7"/>
<circle cx="291.0" cy="437.8" r="3.7"/>
<circle cx="290.7" cy="435.9" r="3.7"/>
<circle cx="291.2" cy="434.9" r="3.7"/>
<circle cx="290.8" cy="432.6" r="3.7"/>
<circle cx="290.9" cy="431.1" r="3.7"/>
<circle cx="290.5" cy="429.6" r="3.7"/>
<circle cx="291.1" cy="427.9" r="3.7"/>
<circle cx="291.6" cy="426.9" r="3.7"/>
<circle cx="290.7" cy="425.1" r="3.7"/>
<circle cx="291.2" cy="423.9" r="3.7"/>
<circle cx="291.3" cy="421.1" r="3.7"/>
<circle cx="291.5" cy="419.8" r="3.7"/>
<circle cx="290.9" cy="418.6" r="3.7"/>
<circle cx="290.5" cy="417.4" r="3.7"/>
<circle cx="291.2" cy="415.4" r="3.7"/>
<circle cx="291.3" cy="414.4" r="3.7"/>
<circle cx="291.5" cy="412.6" r="3.7"/>
<circle cx="291.5" cy="410.6" r="3.7"/>
<circle cx="290.7" cy="408.4" r="3.7"/>
<circle cx="291.3" cy="407.9" r="3.7"/>
<circle cx="291.2" cy="405.6" r="3.7"/>
<circle cx="291.3" cy="403.6" r="3.7"/>
<circle cx="290.7" cy="403.2" r="3.7"/>
<circle cx="290.5" cy="401.4" r="3.7"/>
<circle cx="290.5" cy="399.1" r="3.7"/>
<circle cx="291.4" cy="398.1" r="3.7"/>
<circle cx="290.7" cy="395.6" r="3.7"/>
<circle cx="291.4" cy="395.1" r="3.7"/>
<circle cx="290.8" cy="392.4" r="3.7"/>
<circle cx="290.9" cy="391.8" r="3.7"/>
<circle cx="291.3" cy="389.4" r="3.7"/>
<circle cx="291.4" cy="388.4" r="3.7"/>
<circle cx="291.2" cy="386.1" r="3.7"/>
<circle cx="290.4" cy="384.8" r="3.7"/>
<circle cx="290.8" cy="383.2" r="3.7"/>
<circle cx="290.6" cy="381.4" r="3.7"/>
<circle cx="294.3" cy="382.9" r="3.7"/>
<circle cx="293.8" cy="383.6" r="3.7"/>
<circle cx="294.2" cy="386.9" r="3.7"/>
<circle cx="294.5" cy="387.6" r="3.7"/>
<circle cx="294.3" cy="390.9" r="3.7"/>
<circle cx="294.3" cy="391.9" r="3.7"/>
<circle cx="293.6" cy="394.9" r="3.7"/>
<circle cx="293.8" cy="396.1" r="3.7"/>
<circle cx="294.1" cy="398.1" r="3.7"/>
<circle cx="294.4" cy="399.8" r="3.7"/>
<circle cx="293.4" cy="402.4" r="3.7"/>
<circle cx="294.2" cy="404.9" r="3.7"/>
<circle cx="294.2" cy="406.9" r="3.7"/>
<circle cx="294.5" cy="408.2" r="3.7"/>
<circle cx="294.0" cy="409.6" r="3.7"/>
<circle cx="293.8" cy="412.4" r="3.7"/>
<circle cx="293.5" cy="414.6" r="3.7"/>
<circle cx="293.6" cy="416.1" r="3.7"/>
<circle cx="294.6" cy="417.6" r="3.7"/>
<circle cx="293.4" cy="420.1" r="3.7"/>
<circle cx="293.6" cy="422.6" r="3.7"/>
<circle cx="293.4" cy="424.9" r="3.7"/>
<circle cx="294.4" cy="426.8" r="3.7"/>
<circle cx="293.9" cy="427.9" r="3.7"/>
<circle cx="294.2" cy="430.2" r="3.7"/>
<circle cx="293.9" cy="431.9" r="3.7"/>
<circle cx="293.9" cy="434.6" r="3.7"/>
<circle cx="294.4" cy="436.9" r="3.7"/>
<circle cx="293.6" cy="437.9" r="3.7"/>
<circle cx="293.9" cy="440.4" r="3.7"/>
<circle cx="293.8" cy="441.8" r="3.7"/>
<circle cx="293.5" cy="443.9" r="3.7"/>
<circle cx="294.0" cy="447.1" r="3.7"/>
<circle cx="294.5" cy="448.9" r="3.7"/>
<circle cx="294.6" cy="451.1" r="3.7"/>
<circle cx="294.1" cy="452.9" r="3.7"/>
<circle cx="293.5" cy="454.6" r="3.7"/>
<circle cx="294.1" cy="455.9" r="3.7"/>
<circle cx="294.1" cy="459.1" r="3.7"/>
<circle cx="294.0" cy="460.6" r="3.7"/>
<circle cx="293.8" cy="461.9" r="3.7"/>
<circle cx="294.5" cy="463.4" r="3.7"/>
<circle cx="293.6" cy="466.6" r="3.7"/>
<circle cx="293.9" cy="467.6" r="3.7"/>
<circle cx="294.2" cy="470.1" r="3.7"/>
<circle cx="294.1" cy="472.1" r="3.7"/>
<circle cx="294.0" cy="474.4" r="3.7"/>
<circle cx="293.9" cy="475.6" r="3.7"/>
<circle cx="293.6" cy="478.9" r="3.7"/>
<circle cx="295.5" cy="380.8" r="3.7"/>
<circle cx="295.7" cy="381.2" r="3.7"/>
<circle cx="296.0" cy="383.1" r="3.7"/>
<circle cx="296.0" cy="385.1" r="3.7"/>
<circle cx="295.7" cy="386.8" r="3.7"/>
<circle cx="295.5" cy="388.2" r="3.7"/>
<circle cx="296.1" cy="389.2" r="3.7"/>
<circle cx="295.9" cy="390.9" r="3.7"/>
<circle cx="295.9" cy="393.6" r="3.7"/>
<circle cx="296.1" cy="394.9" r="3.7"/>
<circle cx="296.3" cy="395.6" r="3.7"/>
<circle cx="296.6" cy="398.1" r="3.7"/>
<circle cx="295.5" cy="399.9" r="3.7"/>
<circle cx="295.9" cy="400.6" r="3.7"/>
<circle cx="296.6" cy="402.8" r="3.7"/>
<circle cx="296.3" cy="403.8" r="3.7"/>
<circle cx="296.3" cy="405.2" r="3.7"/>
<circle cx="295.7" cy="407.2" r="3.7"/>
<circle cx="295.4" cy="409.1" r="3.7"/>
<circle cx="295.7" cy="410.4" r="3.7"/>
<circle cx="296.2" cy="412.1" r="3.7"/>
<circle cx="296.5" cy="414.1" r="3.7"/>
<circle cx="296.4" cy="415.6" r="3.7"/>
<circle cx="296.5" cy="417.6" r="3.7"/>
<circle cx="295.6" cy="419.1" r="3.7"/>
<circle cx="295.8" cy="420.6" r="3.7"/>
<circle cx="296.2" cy="422.4" r="3.7"/>
<circle cx="295.5" cy="423.2" r="3.7"/>
<circle cx="296.3" cy="425.6" r="3.7"/>
<circle cx="296.3" cy="425.9" r="3.7"/>
<circle cx="296.1" cy="427.6" r="3.7"/>
<circle cx="296.1" cy="430.2" r="3.7"/>
<circle cx="295.5" cy="432.1" r="3.7"/>
<circle cx="296.2" cy="432.6" r="3.7"/>
<circle cx="295.6" cy="434.6" r="3.7"/>
<circle cx="296.4" cy="436.4" r="3.7"/>
<circle cx="295.5" cy="437.1" r="3.7"/>
<circle cx="295.5" cy="439.9" r="3.7"/>
<circle cx="295.6" cy="441.1" r="3.7"/>
<circle cx="295.7" cy="442.9" r="3.7"/>
<circle cx="295.9" cy="443.8" r="3.7"/>
<circle cx="296.5" cy="445.9" r="3.7"/>
<circle cx="296.2" cy="447.9" r="3.7"/>
<circle cx="296.5" cy="448.4" r="3.7"/>
<circle cx="295.8" cy="450.1" r="3.7"/>
<circle cx="296.0" cy="452.8" r="3.7"/>
<circle cx="296.4" cy="453.1" r="3.7"/>
<circle cx="295.6" cy="455.9" r="3.7"/>
<circle cx="296.2" cy="456.9" r="3.7"/>
<circle cx="296.0" cy="458.1" r="3.7"/>
<circle cx="296.4" cy="460.1" r="3.7"/>
<circle cx="296.4" cy="462.1" r="3.7"/>
<circle cx="295.5" cy="463.2" r="3.7"/>
<circle cx="295.7" cy="465.6" r="3.7"/>
<circle cx="296.1" cy="465.9" r="3.7"/>
<circle cx="295.6" cy="468.1" r="3.7"/>
<circle cx="296.0" cy="469.9" r="3.7"/>
<circle cx="295.9" cy="471.2" r="3.7"/>
<circle cx="295.4" cy="473.1" r="3.7"/>
<circle cx="295.8" cy="473.9" r="3.7"/>
<circle cx="296.0" cy="476.9" r="3.7"/>
<circle cx="295.5" cy="477.4" r="3.7"/>
<circle cx="297.8" cy="477.4" r="3.7"/>
<circle cx="297.9" cy="476.6" r="3.7"/>
<circle cx="298.3" cy="474.6" r="3.7"/>
<circle cx="297.7" cy="471.9" r="3.7"/>
<circle cx="298.2" cy="471.1" r="3.7"/>
<circle cx="298.0" cy="468.9" r="3.7"/>
<circle cx="297.6" cy="465.6" r="3.7"/>
<circle cx="298.5" cy="463.9" r="3.7"/>
<circle cx="297.5" cy="462.9" r="3.7"/>
<circle cx="298.6" cy="460.4" r="3.7"/>
<circle cx="297.6" cy="458.6" r="3.7"/>
<circle cx="298.4" cy="456.6" r="3.7"/>
<circle cx="297.6" cy="454.4" r="3.7"/>
<circle cx="297.7" cy="452.1" r="3.7"/>
<circle cx="297.7" cy="450.6" r="3.7"/>
<circle cx="297.4" cy="447.6" r="3.7"/>
<circle cx="297.7" cy="445.9" r="3.7"/>
<circle cx="298.0" cy="444.9" r="3.7"/>
<circle cx="298.4" cy="441.4" r="3.7"/>
<circle cx="298.3" cy="440.1" r="3.7"/>
<circle cx="298.6" cy="437.9" r="3.7"/>
<circle cx="297.6" cy="436.4" r="3.7"/>
<circle cx="298.1" cy="433.4" r="3.7"/>
<circle cx="297.8" cy="433.1" r="3.7"/>
<circle cx="298.1" cy="431.1" r="3.7"/>
<circle cx="297.8" cy="428.6" r="3.7"/>
<circle cx="297.5" cy="425.9" r="3.7"/>
<circle cx="297.8" cy="423.6" r="3.7"/>
<circle cx="297.9" cy="422.4" r="3.7"/>
<circle cx="298.4" cy="420.1" r="3.7"/>
<circle cx="297.6" cy="417.4" r="3.7"/>
<circle cx="297.7" cy="415.9" r="3.7"/>
<circle cx="297.8" cy="413.8" r="3.7"/>
<circle cx="298.6" cy="412.2" r="3.7"/>
<circle cx="297.8" cy="409.9" r="3.7"/>
<circle cx="297.9" cy="407.4" r="3.7"/>
<circle cx="297.8" cy="406.4" r="3.7"/>
<circle cx="298.0" cy="404.4" r="3.7"/>
<circle cx="298.3" cy="402.6" r="3.7"/>
<circle cx="298.2" cy="399.9" r="3.7"/>
<circle cx="298.4" cy="399.1" r="3.7"/>
<circle cx="297.7" cy="396.8" r="3.7"/>
<circle cx="298.2" cy="394.1" r="3.7"/>
<circle cx="298.3" cy="392.4" r="3.7"/>
<circle cx="298.3" cy="390.9" r="3.7"/>
<circle cx="297.4" cy="388.4" r="3.7"/>
<circle cx="298.5" cy="387.1" r="3.7"/>
<circle cx="298.1" cy="384.4" r="3.7"/>
<circle cx="298.0" cy="381.9" r="3.7"/>
<circle cx="299.6" cy="380.4" r="3.7"/>
<circle cx="299.9" cy="381.9" r="3.7"/>
<circle cx="300.1" cy="383.1" r="3.7"/>
<circle cx="300.0" cy="384.4" r="3.7"/>
<circle cx="300.3" cy="386.8" r="3.7"/>
<circle cx="300.4" cy="387.6" r="3.7"/>
<circle cx="300.1" cy="390.1" r="3.7"/>
<circle cx="299.9" cy="390.9" r="3.7"/>
<circle cx="299.7" cy="392.6" r="3.7"/>
<circle cx="300.2" cy="394.1" r="3.7"/>
<circle cx="300.3" cy="396.1" r="3.7"/>
<circle cx="300.0" cy="397.9" r="3.7"/>
<circle cx="300.0" cy="399.6" r="3.7"/>
<circle cx="300.1" cy="400.9" r="3.7"/>
<circle cx="300.2" cy="402.4" r="3.7"/>
<circle cx="300.2" cy="404.6" r="3.7"/>
<circle cx="300.2" cy="405.6" r="3.7"/>
<circle cx="300.2" cy="408.1" r="3.7"/>
<circle cx="300.0" cy="408.8" r="3.7"/>
<circle cx="300.0" cy="411.2" r="3.7"/>
<circle cx="299.7" cy="411.6" r="3.7"/>
<circle cx="300.0" cy="414.1" r="3.7"/>
<circle cx="300.2" cy="415.2" r="3.7"/>
<circle cx="300.4" cy="416.6" r="3.7"/>
<circle cx="300.2" cy="418.1" r="3.7"/>
<circle cx="299.6" cy="419.8" r="3.7"/>
<circle cx="299.6" cy="421.9" r="3.7"/>
<circle cx="300.0" cy="422.9" r="3.7"/>
<circle cx="300.4" cy="424.9" r="3.7"/>
<circle cx="299.7" cy="426.1" r="3.7"/>
<circle cx="300.2" cy="428.9" r="3.7"/>
<circle cx="299.7" cy="429.1" r="3.7"/>
<circle cx="300.2" cy="431.1" r="3.7"/>
<circle cx="300.4" cy="433.1" r="3.7"/>
<circle cx="300.1" cy="434.4" r="3.7"/>
<circle cx="300.2" cy="436.1" r="3.7"/>
<circle cx="299.9" cy="438.4" r="3.7"/>
<circle cx="299.7" cy="439.8" r="3.7"/>
<circle cx="299.7" cy="441.2" r="3.7"/>
<circle cx="299.9" cy="443.1" r="3.7"/>
<circle cx="299.6" cy="444.4" r="3.7"/>
<circle cx="299.9" cy="446.4" r="3.7"/>
<circle cx="300.4" cy="447.6" r="3.7"/>
<circle cx="299.8" cy="448.6" r="3.7"/>
<circle cx="299.8" cy="450.6" r="3.7"/>
<circle cx="299.8" cy="451.9" r="3.7"/>
<circle cx="300.2" cy="454.1" r="3.7"/>
<circle cx="299.8" cy="456.1" r="3.7"/>
<circle cx="299.8" cy="457.1" r="3.7"/>
<circle cx="299.7" cy="459.1" r="3.7"/>
<circle cx="300.3" cy="459.9" r="3.7"/>
<circle cx="300.2" cy="462.4" r="3.7"/>
<circle cx="299.8" cy="463.2" r="3.7"/>
<circle cx="300.0" cy="465.6" r="3.7"/>
<circle cx="299.7" cy="466.9" r="3.7"/>
<circle cx="300.1" cy="468.1" r="3.7"/>
<circle cx="300.1" cy="470.4" r="3.7"/>
<circle cx="299.8" cy="472.1" r="3.7"/>
<circle cx="299.9" cy="473.4" r="3.7"/>
<circle cx="300.3" cy="474.1" r="3.7"/>
<circle cx="284.9" cy="447.8" r="3.7"/>
<circle cx="284.7" cy="409.4" r="3.7"/>
<circle cx="285.0" cy="392.8" r="3.7"/>
<circle cx="284.9" cy="437.9" r="3.7"/>
<circle cx="284.9" cy="401.8" r="3.7"/>
<circle cx="283.9" cy="427.1" r="3.7"/>
<circle cx="283.8" cy="450.4" r="3.7"/>
<circle cx="284.1" cy="475.8" r="3.7"/>
<circle cx="284.0" cy="421.6" r="3.7"/>
<circle cx="284.8" cy="461.6" r="3.7"/>
<circle cx="283.8" cy="468.2" r="3.7"/>
<circle cx="283.8" cy="385.4" r="3.7"/>
<circle cx="290.5" cy="462.4" r="3.7"/>
<circle cx="291.0" cy="389.2" r="3.7"/>
<circle cx="291.0" cy="406.6" r="3.7"/>
<circle cx="291.1" cy="399.9" r="3.7"/>
<circle cx="291.6" cy="450.1" r="3.7"/>
<circle cx="290.8" cy="472.9" r="3.7"/>
<circle cx="291.6" cy="426.2" r="3.7"/>
<circle cx="291.6" cy="422.8" r="3.7"/>
<circle cx="291.5" cy="466.6" r="3.7"/>
<circle cx="291.5" cy="409.2" r="3.7"/>
<circle cx="290.4" cy="442.6" r="3.7"/>
<circle cx="290.5" cy="437.8" r="3.7"/>
<circle cx="296.2" cy="467.9" r="3.7"/>
<circle cx="296.2" cy="475.9" r="3.7"/>
<circle cx="296.5" cy="398.4" r="3.7"/>
<circle cx="295.6" cy="390.1" r="3.7"/>
<circle cx="296.5" cy="405.2" r="3.7"/>
<circle cx="296.3" cy="431.8" r="3.7"/>
<circle cx="295.7" cy="412.2" r="3.7"/>
<circle cx="296.6" cy="421.6" r="3.7"/>
<circle cx="295.5" cy="445.1" r="3.7"/>
<circle cx="295.9" cy="460.6" r="3.7"/>
<circle cx="296.4" cy="437.4" r="3.7"/>
<circle cx="295.4" cy="453.9" r="3.7"/>
<circle cx="305.0" cy="419.2" r="3.7"/>
<circle cx="305.0" cy="438.2" r="3.7"/>
<circle cx="305.0" cy="445.2" r="3.7"/>
<circle cx="305.0" cy="461.2" r="3.7"/>
<circle cx="305.0" cy="467.2" r="3.7"/>
<circle cx="311.6" cy="476.2" r="3.7"/>
<circle cx="311.6" cy="469.2" r="3.7"/>
<circle cx="311.6" cy="463.2" r="3.7"/>
<circle cx="311.6" cy="455.2" r="3.7"/>
<circle cx="311.6" cy="449.2" r="3.7"/>
<circle cx="311.6" cy="441.2" r="3.7"/>
<circle cx="311.6" cy="435.2" r="3.7"/>
<circle cx="311.6" cy="429.2" r="3.7"/>
<circle cx="311.6" cy="423.2" r="3.7"/>
<circle cx="311.6" cy="415.2" r="3.7"/>
<circle cx="311.6" cy="410.2" r="3.7"/>
<circle cx="311.6" cy="408.4" r="3.7"/>
<circle cx="311.6" cy="402.2" r="3.7"/>
<circle cx="311.6" cy="402.6" r="3.7"/>
<circle cx="311.6" cy="403.1" r="3.7"/>
<circle cx="311.6" cy="403.4" r="3.7"/>
<circle cx="311.6" cy="403.9" r="3.7"/>
<circle cx="311.6" cy="404.2" r="3.7"/>
<circle cx="311.6" cy="404.6" r="3.7"/>
<circle cx="311.6" cy="405.1" r="3.7"/>
<circle cx="311.6" cy="405.4" r="3.7"/>
<circle cx="311.6" cy="405.9" r="3.7"/>
<circle cx="311.6" cy="406.2" r="3.7"/>
<circle cx="311.6" cy="406.6" r="3.7"/>
<circle cx="311.6" cy="407.1" r="3.7"/>
<circle cx="317.0" cy="433.2" r="3.7"/>
<circle cx="317.0" cy="439.2" r="3.7"/>
<circle cx="317.0" cy="445.2" r="3.7"/>
<circle cx="317.0" cy="455.2" r="3.7"/>
<circle cx="317.0" cy="461.2" r="3.7"/>
<circle cx="322.0" cy="440.2" r="3.7"/>
<circle cx="322.0" cy="445.2" r="3.7"/>
<circle cx="322.0" cy="451.2" r="3.7"/>
<circle cx="322.0" cy="455.2" r="3.7"/>
<circle cx="327.0" cy="447.2" r="3.7"/>
<circle cx="327.0" cy="451.2" r="3.7"/>
<circle cx="344.0" cy="443.2" r="3.7"/>
<circle cx="344.0" cy="448.2" r="3.7"/>
<circle cx="344.0" cy="451.9" r="3.7"/>
<circle cx="349.0" cy="451.9" r="3.7"/>
<circle cx="352.0" cy="451.9" r="3.7"/>
<circle cx="358.0" cy="450.2" r="3.7"/>
<circle cx="360.0" cy="448.2" r="3.7"/>
<circle cx="363.0" cy="449.2" r="3.7"/>
<circle cx="360.0" cy="451.9" r="3.7"/>
<circle cx="364.0" cy="451.9" r="3.7"/>
<circle cx="374.0" cy="450.6" r="3.7"/>
<circle cx="379.0" cy="449.2" r="3.7"/>
<circle cx="379.0" cy="451.9" r="3.7"/>
<circle cx="386.0" cy="451.9" r="3.7"/>
<circle cx="390.0" cy="450.2" r="3.7"/>
<circle cx="393.0" cy="451.9" r="3.7"/>
<circle cx="398.6" cy="451.2" r="3.7"/>
<circle cx="398.6" cy="452.6" r="3.7"/>
<circle cx="412.4" cy="451.2" r="3.7"/>
<circle cx="412.4" cy="452.6" r="3.7"/>
<circle cx="425.0" cy="452.2" r="3.7"/>
<circle cx="430.0" cy="451.9" r="3.7"/>
<circle cx="471.6" cy="449.2" r="3.7"/>
<circle cx="471.6" cy="450.6" r="3.7"/>
<circle cx="471.6" cy="452.2" r="3.7"/>
<circle cx="571.6" cy="452.9" r="3.7"/>
<circle cx="613.0" cy="450.6" r="3.7"/>
<circle cx="619.6" cy="449.9" r="3.7"/>
<circle cx="650.6" cy="448.2" r="3.7"/>
<circle cx="650.6" cy="446.9" r="3.7"/>
<circle cx="677.0" cy="450.2" r="3.7"/>
<circle cx="677.0" cy="449.2" r="3.7"/>
</g>
<line x1="189" y1="439" x2="189" y2="468" stroke="#222" stroke-width="1.2"/>
<g stroke="#262626" stroke-width="1.05" fill="none">
<path d="M70.55 6.95V258.30M64.85 252.5H678.80"/>
<path d="M64.85 7.45H70.55"/>
<path d="M64.85 68.71H70.55"/>
<path d="M64.85 129.97H70.55"/>
<path d="M64.85 191.24H70.55"/>
<path d="M66.15 221.87H70.55"/>
<path d="M66.15 160.61H70.55"/>
<path d="M66.15 99.34H70.55"/>
<path d="M66.15 38.08H70.55"/>
<path d="M678.30 252.5V258.30"/>
<path d="M663.11 252.5V256.70" stroke-width="0.85"/>
<path d="M647.91 252.5V256.70" stroke-width="0.85"/>
<path d="M632.72 252.5V256.70" stroke-width="0.85"/>
<path d="M617.52 252.5V256.70" stroke-width="0.85"/>
<path d="M602.33 252.5V258.30"/>
<path d="M587.14 252.5V256.70" stroke-width="0.85"/>
<path d="M571.94 252.5V256.70" stroke-width="0.85"/>
<path d="M556.75 252.5V256.70" stroke-width="0.85"/>
<path d="M541.56 252.5V256.70" stroke-width="0.85"/>
<path d="M526.36 252.5V258.30"/>
<path d="M511.17 252.5V256.70" stroke-width="0.85"/>
<path d="M495.98 252.5V256.70" stroke-width="0.85"/>
<path d="M480.78 252.5V256.70" stroke-width="0.85"/>
<path d="M465.59 252.5V256.70" stroke-width="0.85"/>
<path d="M450.39 252.5V258.30"/>
<path d="M435.20 252.5V256.70" stroke-width="0.85"/>
<path d="M420.01 252.5V256.70" stroke-width="0.85"/>
<path d="M404.81 252.5V256.70" stroke-width="0.85"/>
<path d="M389.62 252.5V256.70" stroke-width="0.85"/>
<path d="M374.43 252.5V258.30"/>
<path d="M359.23 252.5V256.70" stroke-width="0.85"/>
<path d="M344.04 252.5V256.70" stroke-width="0.85"/>
<path d="M328.84 252.5V256.70" stroke-width="0.85"/>
<path d="M313.65 252.5V256.70" stroke-width="0.85"/>
<path d="M298.46 252.5V258.30"/>
<path d="M283.26 252.5V256.70" stroke-width="0.85"/>
<path d="M268.07 252.5V256.70" stroke-width="0.85"/>
<path d="M252.88 252.5V256.70" stroke-width="0.85"/>
<path d="M237.68 252.5V256.70" stroke-width="0.85"/>
<path d="M222.49 252.5V258.30"/>
<path d="M207.29 252.5V256.70" stroke-width="0.85"/>
<path d="M192.10 252.5V256.70" stroke-width="0.85"/>
<path d="M176.91 252.5V256.70" stroke-width="0.85"/>
<path d="M161.71 252.5V256.70" stroke-width="0.85"/>
<path d="M146.52 252.5V258.30"/>
<path d="M131.32 252.5V256.70" stroke-width="0.85"/>
<path d="M116.13 252.5V256.70" stroke-width="0.85"/>
<path d="M100.94 252.5V256.70" stroke-width="0.85"/>
<path d="M85.74 252.5V256.70" stroke-width="0.85"/>
</g>
<g stroke="#3a3a3a" stroke-width="1.2" fill="none">
<path d="M71.2 316.90V483.60M65.50 477.8H677.80"/>
<path d="M65.50 317.40H71.2"/>
<path d="M65.50 344.13H71.2"/>
<path d="M65.50 370.87H71.2"/>
<path d="M65.50 397.60H71.2"/>
<path d="M65.50 424.33H71.2"/>
<path d="M65.50 451.07H71.2"/>
<path d="M677.30 477.8V483.60"/>
<path d="M662.15 477.8V482.00" stroke-width="0.85"/>
<path d="M646.99 477.8V482.00" stroke-width="0.85"/>
<path d="M631.84 477.8V482.00" stroke-width="0.85"/>
<path d="M616.69 477.8V482.00" stroke-width="0.85"/>
<path d="M601.54 477.8V483.60"/>
<path d="M586.38 477.8V482.00" stroke-width="0.85"/>
<path d="M571.23 477.8V482.00" stroke-width="0.85"/>
<path d="M556.08 477.8V482.00" stroke-width="0.85"/>
<path d="M540.93 477.8V482.00" stroke-width="0.85"/>
<path d="M525.77 477.8V483.60"/>
<path d="M510.62 477.8V482.00" stroke-width="0.85"/>
<path d="M495.47 477.8V482.00" stroke-width="0.85"/>
<path d="M480.32 477.8V482.00" stroke-width="0.85"/>
<path d="M465.16 477.8V482.00" stroke-width="0.85"/>
<path d="M450.01 477.8V483.60"/>
<path d="M434.86 477.8V482.00" stroke-width="0.85"/>
<path d="M419.71 477.8V482.00" stroke-width="0.85"/>
<path d="M404.55 477.8V482.00" stroke-width="0.85"/>
<path d="M389.40 477.8V482.00" stroke-width="0.85"/>
<path d="M374.25 477.8V483.60"/>
<path d="M359.10 477.8V482.00" stroke-width="0.85"/>
<path d="M343.94 477.8V482.00" stroke-width="0.85"/>
<path d="M328.79 477.8V482.00" stroke-width="0.85"/>
<path d="M313.64 477.8V482.00" stroke-width="0.85"/>
<path d="M298.49 477.8V483.60"/>
<path d="M283.33 477.8V482.00" stroke-width="0.85"/>
<path d="M268.18 477.8V482.00" stroke-width="0.85"/>
<path d="M253.03 477.8V482.00" stroke-width="0.85"/>
<path d="M237.88 477.8V482.00" stroke-width="0.85"/>
<path d="M222.72 477.8V483.60"/>
<path d="M207.57 477.8V482.00" stroke-width="0.85"/>
<path d="M192.42 477.8V482.00" stroke-width="0.85"/>
<path d="M177.27 477.8V482.00" stroke-width="0.85"/>
<path d="M162.12 477.8V482.00" stroke-width="0.85"/>
<path d="M146.96 477.8V483.60"/>
<path d="M131.81 477.8V482.00" stroke-width="0.85"/>
<path d="M116.66 477.8V482.00" stroke-width="0.85"/>
<path d="M101.50 477.8V482.00" stroke-width="0.85"/>
<path d="M86.35 477.8V482.00" stroke-width="0.85"/>
</g>
<g font-family="Liberation Sans, sans-serif" font-size="17" fill="#111" stroke="#111" stroke-width="0.2">
<text x="54.3" y="12.8" text-anchor="end">20</text>
<text x="54.3" y="74.1" text-anchor="end">0</text>
<text x="54.3" y="135.4" text-anchor="end">-20</text>
<text x="54.3" y="196.6" text-anchor="end">-40</text>
<text x="54.3" y="257.9" text-anchor="end">-60</text>
<text x="678.3" y="281.9" text-anchor="middle">0</text>
<text x="602.3" y="281.9" text-anchor="middle">500</text>
<text x="526.4" y="281.9" text-anchor="middle">1000</text>
<text x="450.4" y="281.9" text-anchor="middle">1500</text>
<text x="374.4" y="281.9" text-anchor="middle">2000</text>
<text x="298.5" y="281.9" text-anchor="middle">2500</text>
<text x="222.5" y="281.9" text-anchor="middle">3000</text>
<text x="146.5" y="281.9" text-anchor="middle">3500</text>
<text x="70.5" y="281.9" text-anchor="middle">4000</text>
<text x="54.3" y="322.8" text-anchor="end">10</text>
<text x="54.3" y="349.5" text-anchor="end">8</text>
<text x="54.3" y="376.3" text-anchor="end">6</text>
<text x="54.3" y="403.0" text-anchor="end">4</text>
<text x="54.3" y="429.7" text-anchor="end">2</text>
<text x="54.3" y="456.5" text-anchor="end">0</text>
<text x="54.3" y="483.2" text-anchor="end">-2</text>
<text x="677.3" y="507.2" text-anchor="middle">0</text>
<text x="601.5" y="507.2" text-anchor="middle">500</text>
<text x="525.8" y="507.2" text-anchor="middle">1000</text>
<text x="450.0" y="507.2" text-anchor="middle">1500</text>
<text x="374.2" y="507.2" text-anchor="middle">2000</text>
<text x="298.5" y="507.2" text-anchor="middle">2500</text>
<text x="222.7" y="507.2" text-anchor="middle">3000</text>
<text x="147.0" y="507.2" text-anchor="middle">3500</text>
<text x="71.2" y="507.2" text-anchor="middle">4000</text>
</g>
<text x="177.6" y="45.8" font-family="Liberation Sans, sans-serif" font-size="15.7" fill="#1F78C8" stroke="#1F78C8" stroke-width="0.25" textLength="78.4" lengthAdjust="spacingAndGlyphs">Carbonate</text>
<text x="437.6" y="200.9" font-family="Liberation Sans, sans-serif" font-size="15.7" fill="#1EB450" stroke="#1EB450" stroke-width="0.25" textLength="116.8" lengthAdjust="spacingAndGlyphs">Organic Carbon</text>
<text x="332" y="545" font-family="Liberation Sans, sans-serif" font-weight="bold" fill="#111" stroke="#111" stroke-width="0.3" stroke-linejoin="round" font-size="17.4" textLength="32.6" lengthAdjust="spacingAndGlyphs">Age</text>
<text x="373.2" y="545" font-family="Liberation Sans, sans-serif" font-weight="bold" fill="#111" stroke="#111" stroke-width="0.3" stroke-linejoin="round" font-size="17.4" textLength="43.3" lengthAdjust="spacingAndGlyphs">[Ma]</text>
<text transform="translate(17.5 170.3) rotate(-90)" font-family="Liberation Sans, sans-serif" font-weight="bold" fill="#111" stroke="#111" stroke-width="0.3" stroke-linejoin="round" font-size="16" textLength="12.6" lengthAdjust="spacingAndGlyphs">δ</text>
<text transform="translate(9.6 157.4) rotate(-90)" font-family="Liberation Sans, sans-serif" font-weight="bold" fill="#111" stroke="#111" stroke-width="0.3" stroke-linejoin="round" font-size="10.6" textLength="11.2" lengthAdjust="spacingAndGlyphs">13</text>
<text transform="translate(17.0 145.3) rotate(-90)" font-family="Liberation Sans, sans-serif" font-weight="bold" fill="#111" stroke="#111" stroke-width="0.3" stroke-linejoin="round" font-size="16" textLength="12.4" lengthAdjust="spacingAndGlyphs">C</text>
<text transform="translate(17.5 130.8) rotate(-90)" font-family="Liberation Sans, sans-serif" font-weight="bold" fill="#111" stroke="#111" stroke-width="0.3" stroke-linejoin="round" font-size="16" textLength="40.8" lengthAdjust="spacingAndGlyphs">[‰]</text>
<text transform="translate(23.9 439.2) rotate(-90)" font-family="Liberation Sans, sans-serif" font-weight="bold" fill="#111" stroke="#111" stroke-width="0.3" stroke-linejoin="round" font-size="16" textLength="14.4" lengthAdjust="spacingAndGlyphs">Δ</text>
<text transform="translate(15.9 423.6) rotate(-90)" font-family="Liberation Sans, sans-serif" font-weight="bold" fill="#111" stroke="#111" stroke-width="0.3" stroke-linejoin="round" font-size="10.6" textLength="10.8" lengthAdjust="spacingAndGlyphs">33</text>
<text transform="translate(23.9 412.8) rotate(-90)" font-family="Liberation Sans, sans-serif" font-weight="bold" fill="#111" stroke="#111" stroke-width="0.3" stroke-linejoin="round" font-size="16" textLength="11" lengthAdjust="spacingAndGlyphs">S</text>
<text transform="translate(23.9 397.9) rotate(-90)" font-family="Liberation Sans, sans-serif" font-weight="bold" fill="#111" stroke="#111" stroke-width="0.3" stroke-linejoin="round" font-size="16" textLength="40.6" lengthAdjust="spacingAndGlyphs">[‰]</text>
</svg>
</body></html>
